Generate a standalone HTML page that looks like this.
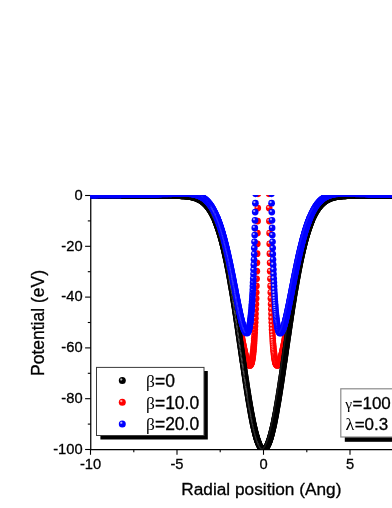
<!DOCTYPE html>
<html><head><meta charset="utf-8"><title>chart</title>
<style>
html,body{margin:0;padding:0;background:#fff;}
body{width:392px;height:508px;overflow:hidden;position:relative;font-family:"Liberation Sans",sans-serif;}
svg{position:absolute;left:0;top:0;display:block;will-change:transform;}
text{font-family:"Liberation Sans",sans-serif;fill:#000;stroke:#000;stroke-width:0.3px;}
.g{font-family:"Liberation Serif",serif;stroke:none;}
</style></head><body>
<svg width="392" height="508" viewBox="0 0 392 508">
<defs>
<radialGradient id="gk" cx="0.35" cy="0.34" r="0.5" fx="0.35" fy="0.34"><stop offset="0" stop-color="#dcdcdc"/><stop offset="0.2" stop-color="#8c8c8c"/><stop offset="0.46" stop-color="#000"/><stop offset="1" stop-color="#000"/></radialGradient>
<radialGradient id="gr" cx="0.35" cy="0.34" r="0.5" fx="0.35" fy="0.34"><stop offset="0" stop-color="#ffdcdc"/><stop offset="0.2" stop-color="#ff8c8c"/><stop offset="0.46" stop-color="#f00"/><stop offset="1" stop-color="#f00"/></radialGradient>
<radialGradient id="gb" cx="0.35" cy="0.34" r="0.5" fx="0.35" fy="0.34"><stop offset="0" stop-color="#dcdcff"/><stop offset="0.2" stop-color="#8c8cff"/><stop offset="0.46" stop-color="#00f"/><stop offset="1" stop-color="#00f"/></radialGradient>
<circle id="k" r="3.5" fill="url(#gk)"/>
<circle id="r" r="3.5" fill="url(#gr)"/>
<circle id="b" r="3.5" fill="url(#gb)"/>
<circle id="k2" r="3.35" fill="url(#gk)"/>
<circle id="r2" r="3.35" fill="url(#gr)"/>
<circle id="b2" r="3.35" fill="url(#gb)"/>
<clipPath id="cp"><rect x="90.2" y="195" width="310" height="254.5"/></clipPath>
</defs>
<rect width="392" height="508" fill="#fff"/>

<g stroke="#000" stroke-width="1.25" fill="none">
<line x1="90.75" y1="195" x2="90.75" y2="450.1"/>
<line x1="90.2" y1="449.5" x2="392" y2="449.5"/>
</g>
<g stroke="#000" stroke-width="1.1" fill="none">
<line x1="85.1" y1="195.5" x2="90.75" y2="195.5"/>
<line x1="87.8" y1="220.9" x2="90.75" y2="220.9"/>
<line x1="85.1" y1="246.3" x2="90.75" y2="246.3"/>
<line x1="87.8" y1="271.7" x2="90.75" y2="271.7"/>
<line x1="85.1" y1="297.1" x2="90.75" y2="297.1"/>
<line x1="87.8" y1="322.5" x2="90.75" y2="322.5"/>
<line x1="85.1" y1="347.9" x2="90.75" y2="347.9"/>
<line x1="87.8" y1="373.3" x2="90.75" y2="373.3"/>
<line x1="85.1" y1="398.7" x2="90.75" y2="398.7"/>
<line x1="87.8" y1="424.1" x2="90.75" y2="424.1"/>
<line x1="85.1" y1="449.5" x2="90.75" y2="449.5"/>
<line x1="90.5" y1="449.5" x2="90.5" y2="454.8"/>
<line x1="133.8" y1="449.5" x2="133.8" y2="452.3"/>
<line x1="177.0" y1="449.5" x2="177.0" y2="454.8"/>
<line x1="220.2" y1="449.5" x2="220.2" y2="452.3"/>
<line x1="263.5" y1="449.5" x2="263.5" y2="454.8"/>
<line x1="306.8" y1="449.5" x2="306.8" y2="452.3"/>
<line x1="350.0" y1="449.5" x2="350.0" y2="454.8"/>
<line x1="393.2" y1="449.5" x2="393.2" y2="452.3"/>
<line x1="436.5" y1="449.5" x2="436.5" y2="454.8"/>
</g>
<g font-size="14.7px">
<text x="82.6" y="199.8" text-anchor="end">0</text>
<text x="82.6" y="250.6" text-anchor="end">-20</text>
<text x="82.6" y="301.4" text-anchor="end">-40</text>
<text x="82.6" y="352.2" text-anchor="end">-60</text>
<text x="82.6" y="403.0" text-anchor="end">-80</text>
<text x="82.6" y="453.8" text-anchor="end">-100</text>
<text x="90.5" y="468.8" text-anchor="middle">-10</text>
<text x="177.0" y="468.8" text-anchor="middle">-5</text>
<text x="263.5" y="468.8" text-anchor="middle">0</text>
<text x="350.0" y="468.8" text-anchor="middle">5</text>
</g>
<text x="181.3" y="495" font-size="17.25px">Radial position (Ang)</text>
<text transform="translate(43.6,376) rotate(-90)" font-size="17.5px">Potential (eV)</text>
<g clip-path="url(#cp)">
<use href="#r2" x="90.5" y="195.2"/>
<use href="#r2" x="91.0" y="195.2"/>
<use href="#r2" x="91.5" y="195.2"/>
<use href="#r2" x="92.1" y="195.2"/>
<use href="#r2" x="92.6" y="195.2"/>
<use href="#r2" x="93.1" y="195.2"/>
<use href="#r2" x="93.6" y="195.2"/>
<use href="#r2" x="94.1" y="195.2"/>
<use href="#r2" x="94.7" y="195.2"/>
<use href="#r2" x="95.2" y="195.2"/>
<use href="#r2" x="95.7" y="195.2"/>
<use href="#r2" x="96.2" y="195.2"/>
<use href="#r2" x="96.7" y="195.2"/>
<use href="#r2" x="97.2" y="195.2"/>
<use href="#r2" x="97.8" y="195.2"/>
<use href="#r2" x="98.3" y="195.2"/>
<use href="#r2" x="98.8" y="195.2"/>
<use href="#r2" x="99.3" y="195.2"/>
<use href="#r2" x="99.8" y="195.2"/>
<use href="#r2" x="100.4" y="195.2"/>
<use href="#r2" x="100.9" y="195.2"/>
<use href="#r2" x="101.4" y="195.2"/>
<use href="#r2" x="101.9" y="195.2"/>
<use href="#r2" x="102.4" y="195.2"/>
<use href="#r2" x="103.0" y="195.2"/>
<use href="#r2" x="103.5" y="195.2"/>
<use href="#r2" x="104.0" y="195.2"/>
<use href="#r2" x="104.5" y="195.2"/>
<use href="#r2" x="105.0" y="195.2"/>
<use href="#r2" x="105.6" y="195.2"/>
<use href="#r2" x="106.1" y="195.2"/>
<use href="#r2" x="106.6" y="195.2"/>
<use href="#r2" x="107.1" y="195.2"/>
<use href="#r2" x="107.6" y="195.2"/>
<use href="#r2" x="108.1" y="195.2"/>
<use href="#r2" x="108.7" y="195.2"/>
<use href="#r2" x="109.2" y="195.2"/>
<use href="#r2" x="109.7" y="195.2"/>
<use href="#r2" x="110.2" y="195.2"/>
<use href="#r2" x="110.7" y="195.2"/>
<use href="#r2" x="111.3" y="195.2"/>
<use href="#r2" x="111.8" y="195.2"/>
<use href="#r2" x="112.3" y="195.2"/>
<use href="#r2" x="112.8" y="195.2"/>
<use href="#r2" x="113.3" y="195.2"/>
<use href="#r2" x="113.9" y="195.2"/>
<use href="#r2" x="114.4" y="195.2"/>
<use href="#r2" x="114.9" y="195.2"/>
<use href="#r2" x="115.4" y="195.2"/>
<use href="#r2" x="115.9" y="195.2"/>
<use href="#r2" x="116.4" y="195.1"/>
<use href="#r2" x="117.0" y="195.1"/>
<use href="#r2" x="117.5" y="195.1"/>
<use href="#r2" x="118.0" y="195.1"/>
<use href="#r2" x="118.5" y="195.1"/>
<use href="#r2" x="119.0" y="195.1"/>
<use href="#r2" x="119.6" y="195.1"/>
<use href="#r2" x="120.1" y="195.1"/>
<use href="#r2" x="120.6" y="195.1"/>
<use href="#r2" x="121.1" y="195.1"/>
<use href="#r2" x="121.6" y="195.1"/>
<use href="#r2" x="122.2" y="195.1"/>
<use href="#r2" x="122.7" y="195.1"/>
<use href="#r2" x="123.2" y="195.1"/>
<use href="#r2" x="123.7" y="195.1"/>
<use href="#r2" x="124.2" y="195.1"/>
<use href="#r2" x="124.8" y="195.1"/>
<use href="#r2" x="125.3" y="195.1"/>
<use href="#r2" x="125.8" y="195.1"/>
<use href="#r2" x="126.3" y="195.1"/>
<use href="#r2" x="126.8" y="195.1"/>
<use href="#r2" x="127.3" y="195.1"/>
<use href="#r2" x="127.9" y="195.1"/>
<use href="#r2" x="128.4" y="195.1"/>
<use href="#r2" x="128.9" y="195.1"/>
<use href="#r2" x="129.4" y="195.1"/>
<use href="#r2" x="129.9" y="195.1"/>
<use href="#r2" x="130.5" y="195.1"/>
<use href="#r2" x="131.0" y="195.1"/>
<use href="#r2" x="131.5" y="195.1"/>
<use href="#r2" x="132.0" y="195.1"/>
<use href="#r2" x="132.5" y="195.1"/>
<use href="#r2" x="133.1" y="195.1"/>
<use href="#r2" x="133.6" y="195.0"/>
<use href="#r2" x="134.1" y="195.0"/>
<use href="#r2" x="134.6" y="195.0"/>
<use href="#r2" x="135.1" y="195.0"/>
<use href="#r2" x="135.7" y="195.0"/>
<use href="#r2" x="136.2" y="195.0"/>
<use href="#r2" x="136.7" y="195.0"/>
<use href="#r2" x="137.2" y="195.0"/>
<use href="#r2" x="137.7" y="195.0"/>
<use href="#r2" x="138.2" y="195.0"/>
<use href="#r2" x="138.8" y="195.0"/>
<use href="#r2" x="139.3" y="195.0"/>
<use href="#r2" x="139.8" y="195.0"/>
<use href="#r2" x="140.3" y="195.0"/>
<use href="#r2" x="140.8" y="195.0"/>
<use href="#r2" x="141.4" y="195.0"/>
<use href="#r2" x="141.9" y="195.0"/>
<use href="#r2" x="142.4" y="195.0"/>
<use href="#r2" x="142.9" y="195.0"/>
<use href="#r2" x="143.4" y="195.0"/>
<use href="#r2" x="144.0" y="195.0"/>
<use href="#r2" x="144.5" y="195.0"/>
<use href="#r2" x="145.0" y="195.0"/>
<use href="#r2" x="145.5" y="195.0"/>
<use href="#r2" x="146.0" y="194.9"/>
<use href="#r2" x="146.6" y="194.9"/>
<use href="#r2" x="147.1" y="194.9"/>
<use href="#r2" x="147.6" y="194.9"/>
<use href="#r2" x="148.1" y="194.9"/>
<use href="#r2" x="148.6" y="194.9"/>
<use href="#r2" x="149.1" y="194.9"/>
<use href="#r2" x="149.7" y="194.9"/>
<use href="#r2" x="150.2" y="194.9"/>
<use href="#r2" x="150.7" y="194.9"/>
<use href="#r2" x="151.2" y="194.9"/>
<use href="#r2" x="151.7" y="194.9"/>
<use href="#r2" x="152.3" y="194.9"/>
<use href="#r2" x="152.8" y="194.9"/>
<use href="#r2" x="153.3" y="194.9"/>
<use href="#r2" x="153.8" y="194.9"/>
<use href="#r2" x="154.3" y="194.9"/>
<use href="#r2" x="154.9" y="194.9"/>
<use href="#r2" x="155.4" y="194.9"/>
<use href="#r2" x="155.9" y="194.8"/>
<use href="#r2" x="156.4" y="194.8"/>
<use href="#r2" x="156.9" y="194.8"/>
<use href="#r2" x="157.5" y="194.8"/>
<use href="#r2" x="158.0" y="194.8"/>
<use href="#r2" x="158.5" y="194.8"/>
<use href="#r2" x="159.0" y="194.8"/>
<use href="#r2" x="159.5" y="194.8"/>
<use href="#r2" x="160.0" y="194.8"/>
<use href="#r2" x="160.6" y="194.8"/>
<use href="#r2" x="161.1" y="194.8"/>
<use href="#r2" x="161.6" y="194.8"/>
<use href="#r2" x="162.1" y="194.8"/>
<use href="#r2" x="162.6" y="194.8"/>
<use href="#r2" x="163.2" y="194.8"/>
<use href="#r2" x="163.7" y="194.7"/>
<use href="#r2" x="164.2" y="194.7"/>
<use href="#r2" x="164.7" y="194.7"/>
<use href="#r2" x="165.2" y="194.7"/>
<use href="#r2" x="165.8" y="194.7"/>
<use href="#r2" x="166.3" y="194.7"/>
<use href="#r2" x="166.8" y="194.7"/>
<use href="#r2" x="167.3" y="194.7"/>
<use href="#r2" x="167.8" y="194.7"/>
<use href="#r2" x="168.3" y="194.7"/>
<use href="#r2" x="168.9" y="194.7"/>
<use href="#r2" x="169.4" y="194.7"/>
<use href="#r2" x="169.9" y="194.7"/>
<use href="#r2" x="170.4" y="194.7"/>
<use href="#r2" x="170.9" y="194.7"/>
<use href="#r2" x="171.5" y="194.7"/>
<use href="#r2" x="172.0" y="194.6"/>
<use href="#r2" x="172.5" y="194.6"/>
<use href="#r2" x="173.0" y="194.6"/>
<use href="#r2" x="173.5" y="194.6"/>
<use href="#r2" x="174.1" y="194.6"/>
<use href="#r2" x="174.6" y="194.6"/>
<use href="#r2" x="175.1" y="194.6"/>
<use href="#r2" x="175.6" y="194.6"/>
<use href="#r2" x="176.1" y="194.6"/>
<use href="#r2" x="176.7" y="194.6"/>
<use href="#r2" x="177.2" y="194.6"/>
<use href="#r2" x="177.7" y="194.6"/>
<use href="#r2" x="178.2" y="194.6"/>
<use href="#r2" x="178.7" y="194.6"/>
<use href="#r2" x="179.2" y="194.6"/>
<use href="#r2" x="179.8" y="194.6"/>
<use href="#r2" x="180.3" y="194.6"/>
<use href="#r2" x="180.8" y="194.7"/>
<use href="#r2" x="181.3" y="194.7"/>
<use href="#r2" x="181.8" y="194.7"/>
<use href="#r2" x="182.4" y="194.7"/>
<use href="#r2" x="182.9" y="194.7"/>
<use href="#r2" x="183.4" y="194.7"/>
<use href="#r2" x="183.9" y="194.7"/>
<use href="#r2" x="184.4" y="194.8"/>
<use href="#r2" x="185.0" y="194.8"/>
<use href="#r2" x="185.5" y="194.8"/>
<use href="#r2" x="186.0" y="194.9"/>
<use href="#r2" x="186.5" y="194.9"/>
<use href="#r2" x="187.0" y="194.9"/>
<use href="#r2" x="187.6" y="195.0"/>
<use href="#r2" x="188.1" y="195.0"/>
<use href="#r2" x="188.6" y="195.1"/>
<use href="#r2" x="189.1" y="195.1"/>
<use href="#r2" x="189.6" y="195.2"/>
<use href="#r2" x="190.1" y="195.2"/>
<use href="#r2" x="190.7" y="195.3"/>
<use href="#r2" x="191.2" y="195.4"/>
<use href="#r2" x="191.7" y="195.5"/>
<use href="#r2" x="192.2" y="195.6"/>
<use href="#r2" x="192.7" y="195.7"/>
<use href="#r2" x="193.3" y="195.8"/>
<use href="#r2" x="193.8" y="195.9"/>
<use href="#r2" x="194.3" y="196.0"/>
<use href="#r2" x="194.8" y="196.1"/>
<use href="#r2" x="195.3" y="196.3"/>
<use href="#r2" x="195.9" y="196.4"/>
<use href="#r2" x="196.4" y="196.6"/>
<use href="#r2" x="196.9" y="196.8"/>
<use href="#r2" x="197.4" y="196.9"/>
<use href="#r2" x="197.9" y="197.1"/>
<use href="#r2" x="198.5" y="197.4"/>
<use href="#r2" x="199.0" y="197.6"/>
<use href="#r2" x="199.5" y="197.8"/>
<use href="#r2" x="200.0" y="198.1"/>
<use href="#r2" x="200.5" y="198.4"/>
<use href="#r2" x="201.0" y="198.6"/>
<use href="#r2" x="201.6" y="199.0"/>
<use href="#r2" x="202.1" y="199.3"/>
<use href="#r2" x="202.6" y="199.6"/>
<use href="#r2" x="203.1" y="200.0"/>
<use href="#r2" x="203.6" y="200.4"/>
<use href="#r2" x="204.2" y="200.8"/>
<use href="#r2" x="204.7" y="201.2"/>
<use href="#r2" x="205.0" y="201.5"/>
<use href="#r2" x="205.4" y="201.8"/>
<use href="#r2" x="205.7" y="202.2"/>
<use href="#r2" x="206.1" y="202.5"/>
<use href="#r2" x="206.4" y="202.9"/>
<use href="#r2" x="206.8" y="203.2"/>
<use href="#r2" x="207.1" y="203.6"/>
<use href="#r2" x="207.4" y="204.0"/>
<use href="#r2" x="207.8" y="204.4"/>
<use href="#r2" x="208.1" y="204.8"/>
<use href="#r2" x="208.5" y="205.2"/>
<use href="#r2" x="208.8" y="205.7"/>
<use href="#r2" x="209.2" y="206.1"/>
<use href="#r2" x="209.5" y="206.6"/>
<use href="#r2" x="209.9" y="207.1"/>
<use href="#r2" x="210.2" y="207.6"/>
<use href="#r2" x="210.6" y="208.1"/>
<use href="#r2" x="210.9" y="208.6"/>
<use href="#r2" x="211.3" y="209.2"/>
<use href="#r2" x="211.6" y="209.7"/>
<use href="#r2" x="211.9" y="210.3"/>
<use href="#r2" x="212.3" y="210.9"/>
<use href="#r2" x="212.6" y="211.6"/>
<use href="#r2" x="213.0" y="212.2"/>
<use href="#r2" x="213.3" y="212.9"/>
<use href="#r2" x="213.7" y="213.5"/>
<use href="#r2" x="214.0" y="214.2"/>
<use href="#r2" x="214.4" y="214.9"/>
<use href="#r2" x="214.7" y="215.7"/>
<use href="#r2" x="215.1" y="216.4"/>
<use href="#r2" x="215.4" y="217.2"/>
<use href="#r2" x="215.8" y="218.0"/>
<use href="#r2" x="216.1" y="218.8"/>
<use href="#r2" x="216.3" y="219.2"/>
<use href="#r2" x="216.4" y="219.7"/>
<use href="#r2" x="216.6" y="220.1"/>
<use href="#r2" x="216.8" y="220.5"/>
<use href="#r2" x="217.0" y="221.0"/>
<use href="#r2" x="217.1" y="221.4"/>
<use href="#r2" x="217.3" y="221.9"/>
<use href="#r2" x="217.5" y="222.3"/>
<use href="#r2" x="217.7" y="222.8"/>
<use href="#r2" x="217.8" y="223.2"/>
<use href="#r2" x="218.0" y="223.7"/>
<use href="#r2" x="218.2" y="224.2"/>
<use href="#r2" x="218.3" y="224.7"/>
<use href="#r2" x="218.5" y="225.2"/>
<use href="#r2" x="218.7" y="225.7"/>
<use href="#r2" x="218.9" y="226.2"/>
<use href="#r2" x="219.0" y="226.7"/>
<use href="#r2" x="219.2" y="227.2"/>
<use href="#r2" x="219.4" y="227.7"/>
<use href="#r2" x="219.6" y="228.2"/>
<use href="#r2" x="219.7" y="228.8"/>
<use href="#r2" x="219.9" y="229.3"/>
<use href="#r2" x="220.1" y="229.8"/>
<use href="#r2" x="220.2" y="230.4"/>
<use href="#r2" x="220.4" y="230.9"/>
<use href="#r2" x="220.6" y="231.5"/>
<use href="#r2" x="220.8" y="232.1"/>
<use href="#r2" x="220.9" y="232.6"/>
<use href="#r2" x="221.1" y="233.2"/>
<use href="#r2" x="221.3" y="233.8"/>
<use href="#r2" x="221.5" y="234.4"/>
<use href="#r2" x="221.6" y="235.0"/>
<use href="#r2" x="221.8" y="235.6"/>
<use href="#r2" x="222.0" y="236.2"/>
<use href="#r2" x="222.2" y="236.8"/>
<use href="#r2" x="222.3" y="237.4"/>
<use href="#r2" x="222.5" y="238.1"/>
<use href="#r2" x="222.7" y="238.7"/>
<use href="#r2" x="222.8" y="239.4"/>
<use href="#r2" x="223.0" y="240.0"/>
<use href="#r2" x="223.2" y="240.7"/>
<use href="#r2" x="223.4" y="241.3"/>
<use href="#r2" x="223.5" y="242.0"/>
<use href="#r2" x="223.7" y="242.7"/>
<use href="#r2" x="223.9" y="243.3"/>
<use href="#r2" x="224.1" y="244.0"/>
<use href="#r2" x="224.2" y="244.7"/>
<use href="#r2" x="224.4" y="245.4"/>
<use href="#r2" x="224.6" y="246.1"/>
<use href="#r2" x="224.7" y="246.8"/>
<use href="#r2" x="224.9" y="247.5"/>
<use href="#r2" x="225.1" y="248.3"/>
<use href="#r2" x="225.3" y="249.0"/>
<use href="#r2" x="225.4" y="249.7"/>
<use href="#r2" x="225.6" y="250.5"/>
<use href="#r2" x="225.8" y="251.2"/>
<use href="#r2" x="226.0" y="252.0"/>
<use href="#r2" x="226.1" y="252.7"/>
<use href="#r2" x="226.3" y="253.5"/>
<use href="#r2" x="226.5" y="254.2"/>
<use href="#r2" x="226.7" y="255.0"/>
<use href="#r2" x="226.8" y="255.8"/>
<use href="#r2" x="227.0" y="256.6"/>
<use href="#r2" x="227.2" y="257.4"/>
<use href="#r2" x="227.3" y="258.2"/>
<use href="#r2" x="227.5" y="259.0"/>
<use href="#r2" x="227.7" y="259.8"/>
<use href="#r2" x="227.9" y="260.6"/>
<use href="#r2" x="228.0" y="261.5"/>
<use href="#r2" x="228.2" y="262.3"/>
<use href="#r2" x="228.4" y="263.1"/>
<use href="#r2" x="228.6" y="264.0"/>
<use href="#r2" x="228.7" y="264.8"/>
<use href="#r2" x="228.9" y="265.7"/>
<use href="#r2" x="229.1" y="266.5"/>
<use href="#r2" x="229.2" y="267.4"/>
<use href="#r2" x="229.4" y="268.2"/>
<use href="#r2" x="229.6" y="269.1"/>
<use href="#r2" x="229.8" y="270.0"/>
<use href="#r2" x="229.9" y="270.9"/>
<use href="#r2" x="230.1" y="271.8"/>
<use href="#r2" x="230.3" y="272.7"/>
<use href="#r2" x="230.5" y="273.6"/>
<use href="#r2" x="230.6" y="274.5"/>
<use href="#r2" x="230.8" y="275.4"/>
<use href="#r2" x="231.0" y="276.3"/>
<use href="#r2" x="231.1" y="277.2"/>
<use href="#r2" x="231.3" y="278.1"/>
<use href="#r2" x="231.5" y="279.1"/>
<use href="#r2" x="231.7" y="280.0"/>
<use href="#r2" x="231.8" y="280.9"/>
<use href="#r2" x="232.0" y="281.9"/>
<use href="#r2" x="232.2" y="282.8"/>
<use href="#r2" x="232.4" y="283.8"/>
<use href="#r2" x="232.5" y="284.7"/>
<use href="#r2" x="232.7" y="285.7"/>
<use href="#r2" x="232.9" y="286.6"/>
<use href="#r2" x="233.1" y="287.6"/>
<use href="#r2" x="233.2" y="288.6"/>
<use href="#r2" x="233.4" y="289.5"/>
<use href="#r2" x="233.6" y="290.5"/>
<use href="#r2" x="233.7" y="291.5"/>
<use href="#r2" x="233.9" y="292.5"/>
<use href="#r2" x="234.1" y="293.4"/>
<use href="#r2" x="234.3" y="294.4"/>
<use href="#r2" x="234.4" y="295.4"/>
<use href="#r2" x="234.6" y="296.4"/>
<use href="#r2" x="234.8" y="297.4"/>
<use href="#r2" x="235.0" y="298.4"/>
<use href="#r2" x="235.1" y="299.4"/>
<use href="#r2" x="235.3" y="300.4"/>
<use href="#r2" x="235.5" y="301.4"/>
<use href="#r2" x="235.6" y="302.4"/>
<use href="#r2" x="235.8" y="303.4"/>
<use href="#r2" x="236.0" y="304.4"/>
<use href="#r2" x="236.2" y="305.4"/>
<use href="#r2" x="236.3" y="306.4"/>
<use href="#r2" x="236.5" y="307.5"/>
<use href="#r2" x="236.7" y="308.5"/>
<use href="#r2" x="236.9" y="309.5"/>
<use href="#r2" x="237.0" y="310.5"/>
<use href="#r2" x="237.2" y="311.5"/>
<use href="#r2" x="237.4" y="312.5"/>
<use href="#r2" x="237.6" y="313.5"/>
<use href="#r2" x="237.7" y="314.6"/>
<use href="#r2" x="237.9" y="315.6"/>
<use href="#r2" x="238.1" y="316.6"/>
<use href="#r2" x="238.2" y="317.6"/>
<use href="#r2" x="238.4" y="318.6"/>
<use href="#r2" x="238.6" y="319.6"/>
<use href="#r2" x="238.8" y="320.6"/>
<use href="#r2" x="238.9" y="321.6"/>
<use href="#r2" x="239.1" y="322.6"/>
<use href="#r2" x="239.3" y="323.6"/>
<use href="#r2" x="239.5" y="324.6"/>
<use href="#r2" x="239.6" y="325.6"/>
<use href="#r2" x="239.8" y="326.6"/>
<use href="#r2" x="240.0" y="327.6"/>
<use href="#r2" x="240.1" y="328.6"/>
<use href="#r2" x="240.3" y="329.6"/>
<use href="#r2" x="240.5" y="330.5"/>
<use href="#r2" x="240.7" y="331.5"/>
<use href="#r2" x="240.8" y="332.5"/>
<use href="#r2" x="241.0" y="333.5"/>
<use href="#r2" x="241.2" y="334.4"/>
<use href="#r2" x="241.4" y="335.4"/>
<use href="#r2" x="241.5" y="336.3"/>
<use href="#r2" x="241.7" y="337.3"/>
<use href="#r2" x="241.9" y="338.2"/>
<use href="#r2" x="242.0" y="339.1"/>
<use href="#r2" x="242.2" y="340.0"/>
<use href="#r2" x="242.4" y="341.0"/>
<use href="#r2" x="242.6" y="341.9"/>
<use href="#r2" x="242.7" y="342.8"/>
<use href="#r2" x="242.9" y="343.6"/>
<use href="#r2" x="243.1" y="344.5"/>
<use href="#r2" x="243.3" y="345.4"/>
<use href="#r2" x="243.4" y="346.3"/>
<use href="#r2" x="243.6" y="347.1"/>
<use href="#r2" x="243.8" y="347.9"/>
<use href="#r2" x="244.0" y="348.8"/>
<use href="#r2" x="244.1" y="349.6"/>
<use href="#r2" x="244.3" y="350.4"/>
<use href="#r2" x="244.5" y="351.2"/>
<use href="#r2" x="244.6" y="352.0"/>
<use href="#r2" x="244.8" y="352.7"/>
<use href="#r2" x="245.0" y="353.5"/>
<use href="#r2" x="245.2" y="354.2"/>
<use href="#r2" x="245.3" y="354.9"/>
<use href="#r2" x="245.5" y="355.6"/>
<use href="#r2" x="245.7" y="356.3"/>
<use href="#r2" x="245.9" y="357.0"/>
<use href="#r2" x="246.0" y="357.6"/>
<use href="#r2" x="246.2" y="358.3"/>
<use href="#r2" x="246.4" y="358.9"/>
<use href="#r2" x="246.5" y="359.5"/>
<use href="#r2" x="246.7" y="360.0"/>
<use href="#r2" x="246.9" y="360.6"/>
<use href="#r2" x="247.1" y="361.1"/>
<use href="#r2" x="247.2" y="361.6"/>
<use href="#r2" x="247.4" y="362.1"/>
<use href="#r2" x="247.6" y="362.5"/>
<use href="#r2" x="247.8" y="363.0"/>
<use href="#r2" x="248.1" y="363.7"/>
<use href="#r2" x="248.4" y="364.3"/>
<use href="#r2" x="248.8" y="364.8"/>
<use href="#r2" x="249.1" y="365.2"/>
<use href="#r2" x="249.7" y="365.4"/>
<use href="#r2" x="250.2" y="365.3"/>
<use href="#r2" x="250.5" y="364.9"/>
<use href="#r2" x="250.9" y="364.3"/>
<use href="#r2" x="251.2" y="363.5"/>
<use href="#r2" x="251.4" y="362.9"/>
<use href="#r2" x="251.6" y="362.3"/>
<use href="#r2" x="251.7" y="361.7"/>
<use href="#r2" x="251.9" y="360.9"/>
<use href="#r2" x="252.1" y="360.1"/>
<use href="#r2" x="252.3" y="359.1"/>
<use href="#r2" x="252.4" y="358.1"/>
<use href="#r2" x="252.6" y="357.0"/>
<use href="#r2" x="252.8" y="355.8"/>
<use href="#r2" x="252.9" y="354.4"/>
<use href="#r2" x="253.1" y="352.9"/>
<use href="#r2" x="253.3" y="351.3"/>
<use href="#r2" x="253.5" y="349.6"/>
<use href="#r2" x="253.6" y="347.7"/>
<use href="#r2" x="253.8" y="345.7"/>
<use href="#r2" x="254.0" y="343.5"/>
<use href="#r2" x="254.2" y="341.1"/>
<use href="#r2" x="254.3" y="338.5"/>
<use href="#r2" x="254.5" y="335.8"/>
<use href="#r2" x="254.7" y="332.8"/>
<use href="#r2" x="254.8" y="329.5"/>
<use href="#r2" x="255.0" y="326.1"/>
<use href="#r2" x="255.2" y="322.3"/>
<use href="#r2" x="255.4" y="318.2"/>
<use href="#r2" x="255.5" y="313.8"/>
<use href="#r2" x="255.7" y="309.1"/>
<use href="#r2" x="255.9" y="304.0"/>
<use href="#r2" x="256.1" y="298.4"/>
<use href="#r2" x="256.2" y="292.4"/>
<use href="#r2" x="256.4" y="285.9"/>
<use href="#r2" x="256.6" y="278.8"/>
<use href="#r2" x="256.8" y="271.2"/>
<use href="#r2" x="256.9" y="262.8"/>
<use href="#r2" x="257.1" y="253.7"/>
<use href="#r2" x="257.3" y="243.8"/>
<use href="#r2" x="257.4" y="233.0"/>
<use href="#r2" x="257.6" y="221.1"/>
<use href="#r2" x="257.8" y="208.1"/>
<use href="#r2" x="258.0" y="193.8"/>
<use href="#r2" x="269.0" y="193.8"/>
<use href="#r2" x="269.2" y="208.1"/>
<use href="#r2" x="269.4" y="221.1"/>
<use href="#r2" x="269.6" y="233.0"/>
<use href="#r2" x="269.7" y="243.8"/>
<use href="#r2" x="269.9" y="253.7"/>
<use href="#r2" x="270.1" y="262.8"/>
<use href="#r2" x="270.2" y="271.2"/>
<use href="#r2" x="270.4" y="278.8"/>
<use href="#r2" x="270.6" y="285.9"/>
<use href="#r2" x="270.8" y="292.4"/>
<use href="#r2" x="270.9" y="298.4"/>
<use href="#r2" x="271.1" y="304.0"/>
<use href="#r2" x="271.3" y="309.1"/>
<use href="#r2" x="271.5" y="313.8"/>
<use href="#r2" x="271.6" y="318.2"/>
<use href="#r2" x="271.8" y="322.3"/>
<use href="#r2" x="272.0" y="326.1"/>
<use href="#r2" x="272.1" y="329.5"/>
<use href="#r2" x="272.3" y="332.8"/>
<use href="#r2" x="272.5" y="335.8"/>
<use href="#r2" x="272.7" y="338.5"/>
<use href="#r2" x="272.8" y="341.1"/>
<use href="#r2" x="273.0" y="343.5"/>
<use href="#r2" x="273.2" y="345.7"/>
<use href="#r2" x="273.4" y="347.7"/>
<use href="#r2" x="273.5" y="349.6"/>
<use href="#r2" x="273.7" y="351.3"/>
<use href="#r2" x="273.9" y="352.9"/>
<use href="#r2" x="274.1" y="354.4"/>
<use href="#r2" x="274.2" y="355.8"/>
<use href="#r2" x="274.4" y="357.0"/>
<use href="#r2" x="274.6" y="358.1"/>
<use href="#r2" x="274.7" y="359.1"/>
<use href="#r2" x="274.9" y="360.1"/>
<use href="#r2" x="275.1" y="360.9"/>
<use href="#r2" x="275.3" y="361.7"/>
<use href="#r2" x="275.4" y="362.3"/>
<use href="#r2" x="275.6" y="362.9"/>
<use href="#r2" x="275.8" y="363.5"/>
<use href="#r2" x="276.0" y="363.9"/>
<use href="#r2" x="276.3" y="364.6"/>
<use href="#r2" x="276.6" y="365.1"/>
<use href="#r2" x="277.2" y="365.4"/>
<use href="#r2" x="277.7" y="365.3"/>
<use href="#r2" x="278.2" y="364.8"/>
<use href="#r2" x="278.6" y="364.3"/>
<use href="#r2" x="278.9" y="363.7"/>
<use href="#r2" x="279.2" y="363.0"/>
<use href="#r2" x="279.4" y="362.5"/>
<use href="#r2" x="279.6" y="362.1"/>
<use href="#r2" x="279.8" y="361.6"/>
<use href="#r2" x="279.9" y="361.1"/>
<use href="#r2" x="280.1" y="360.6"/>
<use href="#r2" x="280.3" y="360.0"/>
<use href="#r2" x="280.5" y="359.5"/>
<use href="#r2" x="280.6" y="358.9"/>
<use href="#r2" x="280.8" y="358.3"/>
<use href="#r2" x="281.0" y="357.6"/>
<use href="#r2" x="281.1" y="357.0"/>
<use href="#r2" x="281.3" y="356.3"/>
<use href="#r2" x="281.5" y="355.6"/>
<use href="#r2" x="281.7" y="354.9"/>
<use href="#r2" x="281.8" y="354.2"/>
<use href="#r2" x="282.0" y="353.5"/>
<use href="#r2" x="282.2" y="352.7"/>
<use href="#r2" x="282.4" y="352.0"/>
<use href="#r2" x="282.5" y="351.2"/>
<use href="#r2" x="282.7" y="350.4"/>
<use href="#r2" x="282.9" y="349.6"/>
<use href="#r2" x="283.0" y="348.8"/>
<use href="#r2" x="283.2" y="347.9"/>
<use href="#r2" x="283.4" y="347.1"/>
<use href="#r2" x="283.6" y="346.3"/>
<use href="#r2" x="283.7" y="345.4"/>
<use href="#r2" x="283.9" y="344.5"/>
<use href="#r2" x="284.1" y="343.6"/>
<use href="#r2" x="284.3" y="342.8"/>
<use href="#r2" x="284.4" y="341.9"/>
<use href="#r2" x="284.6" y="341.0"/>
<use href="#r2" x="284.8" y="340.0"/>
<use href="#r2" x="285.0" y="339.1"/>
<use href="#r2" x="285.1" y="338.2"/>
<use href="#r2" x="285.3" y="337.3"/>
<use href="#r2" x="285.5" y="336.3"/>
<use href="#r2" x="285.6" y="335.4"/>
<use href="#r2" x="285.8" y="334.4"/>
<use href="#r2" x="286.0" y="333.5"/>
<use href="#r2" x="286.2" y="332.5"/>
<use href="#r2" x="286.3" y="331.5"/>
<use href="#r2" x="286.5" y="330.5"/>
<use href="#r2" x="286.7" y="329.6"/>
<use href="#r2" x="286.9" y="328.6"/>
<use href="#r2" x="287.0" y="327.6"/>
<use href="#r2" x="287.2" y="326.6"/>
<use href="#r2" x="287.4" y="325.6"/>
<use href="#r2" x="287.5" y="324.6"/>
<use href="#r2" x="287.7" y="323.6"/>
<use href="#r2" x="287.9" y="322.6"/>
<use href="#r2" x="288.1" y="321.6"/>
<use href="#r2" x="288.2" y="320.6"/>
<use href="#r2" x="288.4" y="319.6"/>
<use href="#r2" x="288.6" y="318.6"/>
<use href="#r2" x="288.8" y="317.6"/>
<use href="#r2" x="288.9" y="316.6"/>
<use href="#r2" x="289.1" y="315.6"/>
<use href="#r2" x="289.3" y="314.6"/>
<use href="#r2" x="289.4" y="313.5"/>
<use href="#r2" x="289.6" y="312.5"/>
<use href="#r2" x="289.8" y="311.5"/>
<use href="#r2" x="290.0" y="310.5"/>
<use href="#r2" x="290.1" y="309.5"/>
<use href="#r2" x="290.3" y="308.5"/>
<use href="#r2" x="290.5" y="307.5"/>
<use href="#r2" x="290.7" y="306.4"/>
<use href="#r2" x="290.8" y="305.4"/>
<use href="#r2" x="291.0" y="304.4"/>
<use href="#r2" x="291.2" y="303.4"/>
<use href="#r2" x="291.4" y="302.4"/>
<use href="#r2" x="291.5" y="301.4"/>
<use href="#r2" x="291.7" y="300.4"/>
<use href="#r2" x="291.9" y="299.4"/>
<use href="#r2" x="292.0" y="298.4"/>
<use href="#r2" x="292.2" y="297.4"/>
<use href="#r2" x="292.4" y="296.4"/>
<use href="#r2" x="292.6" y="295.4"/>
<use href="#r2" x="292.7" y="294.4"/>
<use href="#r2" x="292.9" y="293.4"/>
<use href="#r2" x="293.1" y="292.5"/>
<use href="#r2" x="293.3" y="291.5"/>
<use href="#r2" x="293.4" y="290.5"/>
<use href="#r2" x="293.6" y="289.5"/>
<use href="#r2" x="293.8" y="288.6"/>
<use href="#r2" x="293.9" y="287.6"/>
<use href="#r2" x="294.1" y="286.6"/>
<use href="#r2" x="294.3" y="285.7"/>
<use href="#r2" x="294.5" y="284.7"/>
<use href="#r2" x="294.6" y="283.8"/>
<use href="#r2" x="294.8" y="282.8"/>
<use href="#r2" x="295.0" y="281.9"/>
<use href="#r2" x="295.2" y="280.9"/>
<use href="#r2" x="295.3" y="280.0"/>
<use href="#r2" x="295.5" y="279.1"/>
<use href="#r2" x="295.7" y="278.1"/>
<use href="#r2" x="295.9" y="277.2"/>
<use href="#r2" x="296.0" y="276.3"/>
<use href="#r2" x="296.2" y="275.4"/>
<use href="#r2" x="296.4" y="274.5"/>
<use href="#r2" x="296.5" y="273.6"/>
<use href="#r2" x="296.7" y="272.7"/>
<use href="#r2" x="296.9" y="271.8"/>
<use href="#r2" x="297.1" y="270.9"/>
<use href="#r2" x="297.2" y="270.0"/>
<use href="#r2" x="297.4" y="269.1"/>
<use href="#r2" x="297.6" y="268.2"/>
<use href="#r2" x="297.8" y="267.4"/>
<use href="#r2" x="297.9" y="266.5"/>
<use href="#r2" x="298.1" y="265.7"/>
<use href="#r2" x="298.3" y="264.8"/>
<use href="#r2" x="298.4" y="264.0"/>
<use href="#r2" x="298.6" y="263.1"/>
<use href="#r2" x="298.8" y="262.3"/>
<use href="#r2" x="299.0" y="261.5"/>
<use href="#r2" x="299.1" y="260.6"/>
<use href="#r2" x="299.3" y="259.8"/>
<use href="#r2" x="299.5" y="259.0"/>
<use href="#r2" x="299.7" y="258.2"/>
<use href="#r2" x="299.8" y="257.4"/>
<use href="#r2" x="300.0" y="256.6"/>
<use href="#r2" x="300.2" y="255.8"/>
<use href="#r2" x="300.3" y="255.0"/>
<use href="#r2" x="300.5" y="254.2"/>
<use href="#r2" x="300.7" y="253.5"/>
<use href="#r2" x="300.9" y="252.7"/>
<use href="#r2" x="301.0" y="252.0"/>
<use href="#r2" x="301.2" y="251.2"/>
<use href="#r2" x="301.4" y="250.5"/>
<use href="#r2" x="301.6" y="249.7"/>
<use href="#r2" x="301.7" y="249.0"/>
<use href="#r2" x="301.9" y="248.3"/>
<use href="#r2" x="302.1" y="247.5"/>
<use href="#r2" x="302.3" y="246.8"/>
<use href="#r2" x="302.4" y="246.1"/>
<use href="#r2" x="302.6" y="245.4"/>
<use href="#r2" x="302.8" y="244.7"/>
<use href="#r2" x="302.9" y="244.0"/>
<use href="#r2" x="303.1" y="243.3"/>
<use href="#r2" x="303.3" y="242.7"/>
<use href="#r2" x="303.5" y="242.0"/>
<use href="#r2" x="303.6" y="241.3"/>
<use href="#r2" x="303.8" y="240.7"/>
<use href="#r2" x="304.0" y="240.0"/>
<use href="#r2" x="304.2" y="239.4"/>
<use href="#r2" x="304.3" y="238.7"/>
<use href="#r2" x="304.5" y="238.1"/>
<use href="#r2" x="304.7" y="237.4"/>
<use href="#r2" x="304.8" y="236.8"/>
<use href="#r2" x="305.0" y="236.2"/>
<use href="#r2" x="305.2" y="235.6"/>
<use href="#r2" x="305.4" y="235.0"/>
<use href="#r2" x="305.5" y="234.4"/>
<use href="#r2" x="305.7" y="233.8"/>
<use href="#r2" x="305.9" y="233.2"/>
<use href="#r2" x="306.1" y="232.6"/>
<use href="#r2" x="306.2" y="232.1"/>
<use href="#r2" x="306.4" y="231.5"/>
<use href="#r2" x="306.6" y="230.9"/>
<use href="#r2" x="306.8" y="230.4"/>
<use href="#r2" x="306.9" y="229.8"/>
<use href="#r2" x="307.1" y="229.3"/>
<use href="#r2" x="307.3" y="228.8"/>
<use href="#r2" x="307.4" y="228.2"/>
<use href="#r2" x="307.6" y="227.7"/>
<use href="#r2" x="307.8" y="227.2"/>
<use href="#r2" x="308.0" y="226.7"/>
<use href="#r2" x="308.1" y="226.2"/>
<use href="#r2" x="308.3" y="225.7"/>
<use href="#r2" x="308.5" y="225.2"/>
<use href="#r2" x="308.7" y="224.7"/>
<use href="#r2" x="308.8" y="224.2"/>
<use href="#r2" x="309.0" y="223.7"/>
<use href="#r2" x="309.2" y="223.2"/>
<use href="#r2" x="309.3" y="222.8"/>
<use href="#r2" x="309.5" y="222.3"/>
<use href="#r2" x="309.7" y="221.9"/>
<use href="#r2" x="309.9" y="221.4"/>
<use href="#r2" x="310.0" y="221.0"/>
<use href="#r2" x="310.2" y="220.5"/>
<use href="#r2" x="310.4" y="220.1"/>
<use href="#r2" x="310.6" y="219.7"/>
<use href="#r2" x="310.7" y="219.2"/>
<use href="#r2" x="310.9" y="218.8"/>
<use href="#r2" x="311.2" y="218.0"/>
<use href="#r2" x="311.6" y="217.2"/>
<use href="#r2" x="311.9" y="216.4"/>
<use href="#r2" x="312.3" y="215.7"/>
<use href="#r2" x="312.6" y="214.9"/>
<use href="#r2" x="313.0" y="214.2"/>
<use href="#r2" x="313.3" y="213.5"/>
<use href="#r2" x="313.7" y="212.9"/>
<use href="#r2" x="314.0" y="212.2"/>
<use href="#r2" x="314.4" y="211.6"/>
<use href="#r2" x="314.7" y="210.9"/>
<use href="#r2" x="315.1" y="210.3"/>
<use href="#r2" x="315.4" y="209.7"/>
<use href="#r2" x="315.7" y="209.2"/>
<use href="#r2" x="316.1" y="208.6"/>
<use href="#r2" x="316.4" y="208.1"/>
<use href="#r2" x="316.8" y="207.6"/>
<use href="#r2" x="317.1" y="207.1"/>
<use href="#r2" x="317.5" y="206.6"/>
<use href="#r2" x="317.8" y="206.1"/>
<use href="#r2" x="318.2" y="205.7"/>
<use href="#r2" x="318.5" y="205.2"/>
<use href="#r2" x="318.9" y="204.8"/>
<use href="#r2" x="319.2" y="204.4"/>
<use href="#r2" x="319.6" y="204.0"/>
<use href="#r2" x="319.9" y="203.6"/>
<use href="#r2" x="320.2" y="203.2"/>
<use href="#r2" x="320.6" y="202.9"/>
<use href="#r2" x="320.9" y="202.5"/>
<use href="#r2" x="321.3" y="202.2"/>
<use href="#r2" x="321.6" y="201.8"/>
<use href="#r2" x="322.0" y="201.5"/>
<use href="#r2" x="322.3" y="201.2"/>
<use href="#r2" x="322.7" y="200.9"/>
<use href="#r2" x="323.2" y="200.5"/>
<use href="#r2" x="323.7" y="200.1"/>
<use href="#r2" x="324.2" y="199.7"/>
<use href="#r2" x="324.7" y="199.4"/>
<use href="#r2" x="325.3" y="199.1"/>
<use href="#r2" x="325.8" y="198.7"/>
<use href="#r2" x="326.3" y="198.4"/>
<use href="#r2" x="326.8" y="198.2"/>
<use href="#r2" x="327.3" y="197.9"/>
<use href="#r2" x="327.9" y="197.7"/>
<use href="#r2" x="328.4" y="197.4"/>
<use href="#r2" x="328.9" y="197.2"/>
<use href="#r2" x="329.4" y="197.0"/>
<use href="#r2" x="329.9" y="196.8"/>
<use href="#r2" x="330.5" y="196.6"/>
<use href="#r2" x="331.0" y="196.5"/>
<use href="#r2" x="331.5" y="196.3"/>
<use href="#r2" x="332.0" y="196.2"/>
<use href="#r2" x="332.5" y="196.0"/>
<use href="#r2" x="333.0" y="195.9"/>
<use href="#r2" x="333.6" y="195.8"/>
<use href="#r2" x="334.1" y="195.7"/>
<use href="#r2" x="334.6" y="195.6"/>
<use href="#r2" x="335.1" y="195.5"/>
<use href="#r2" x="335.6" y="195.4"/>
<use href="#r2" x="336.2" y="195.3"/>
<use href="#r2" x="336.7" y="195.3"/>
<use href="#r2" x="337.2" y="195.2"/>
<use href="#r2" x="337.7" y="195.1"/>
<use href="#r2" x="338.2" y="195.1"/>
<use href="#r2" x="338.8" y="195.0"/>
<use href="#r2" x="339.3" y="195.0"/>
<use href="#r2" x="339.8" y="194.9"/>
<use href="#r2" x="340.3" y="194.9"/>
<use href="#r2" x="340.8" y="194.9"/>
<use href="#r2" x="341.4" y="194.8"/>
<use href="#r2" x="341.9" y="194.8"/>
<use href="#r2" x="342.4" y="194.8"/>
<use href="#r2" x="342.9" y="194.8"/>
<use href="#r2" x="343.4" y="194.7"/>
<use href="#r2" x="343.9" y="194.7"/>
<use href="#r2" x="344.5" y="194.7"/>
<use href="#r2" x="345.0" y="194.7"/>
<use href="#r2" x="345.5" y="194.7"/>
<use href="#r2" x="346.0" y="194.7"/>
<use href="#r2" x="346.5" y="194.7"/>
<use href="#r2" x="347.1" y="194.6"/>
<use href="#r2" x="347.6" y="194.6"/>
<use href="#r2" x="348.1" y="194.6"/>
<use href="#r2" x="348.6" y="194.6"/>
<use href="#r2" x="349.1" y="194.6"/>
<use href="#r2" x="349.7" y="194.6"/>
<use href="#r2" x="350.2" y="194.6"/>
<use href="#r2" x="350.7" y="194.6"/>
<use href="#r2" x="351.2" y="194.6"/>
<use href="#r2" x="351.7" y="194.6"/>
<use href="#r2" x="352.2" y="194.6"/>
<use href="#r2" x="352.8" y="194.6"/>
<use href="#r2" x="353.3" y="194.6"/>
<use href="#r2" x="353.8" y="194.6"/>
<use href="#r2" x="354.3" y="194.6"/>
<use href="#r2" x="354.8" y="194.6"/>
<use href="#r2" x="355.4" y="194.7"/>
<use href="#r2" x="355.9" y="194.7"/>
<use href="#r2" x="356.4" y="194.7"/>
<use href="#r2" x="356.9" y="194.7"/>
<use href="#r2" x="357.4" y="194.7"/>
<use href="#r2" x="358.0" y="194.7"/>
<use href="#r2" x="358.5" y="194.7"/>
<use href="#r2" x="359.0" y="194.7"/>
<use href="#r2" x="359.5" y="194.7"/>
<use href="#r2" x="360.0" y="194.7"/>
<use href="#r2" x="360.6" y="194.7"/>
<use href="#r2" x="361.1" y="194.7"/>
<use href="#r2" x="361.6" y="194.7"/>
<use href="#r2" x="362.1" y="194.7"/>
<use href="#r2" x="362.6" y="194.7"/>
<use href="#r2" x="363.1" y="194.7"/>
<use href="#r2" x="363.7" y="194.8"/>
<use href="#r2" x="364.2" y="194.8"/>
<use href="#r2" x="364.7" y="194.8"/>
<use href="#r2" x="365.2" y="194.8"/>
<use href="#r2" x="365.7" y="194.8"/>
<use href="#r2" x="366.3" y="194.8"/>
<use href="#r2" x="366.8" y="194.8"/>
<use href="#r2" x="367.3" y="194.8"/>
<use href="#r2" x="367.8" y="194.8"/>
<use href="#r2" x="368.3" y="194.8"/>
<use href="#r2" x="368.9" y="194.8"/>
<use href="#r2" x="369.4" y="194.8"/>
<use href="#r2" x="369.9" y="194.8"/>
<use href="#r2" x="370.4" y="194.8"/>
<use href="#r2" x="370.9" y="194.8"/>
<use href="#r2" x="371.5" y="194.8"/>
<use href="#r2" x="372.0" y="194.9"/>
<use href="#r2" x="372.5" y="194.9"/>
<use href="#r2" x="373.0" y="194.9"/>
<use href="#r2" x="373.5" y="194.9"/>
<use href="#r2" x="374.0" y="194.9"/>
<use href="#r2" x="374.6" y="194.9"/>
<use href="#r2" x="375.1" y="194.9"/>
<use href="#r2" x="375.6" y="194.9"/>
<use href="#r2" x="376.1" y="194.9"/>
<use href="#r2" x="376.6" y="194.9"/>
<use href="#r2" x="377.2" y="194.9"/>
<use href="#r2" x="377.7" y="194.9"/>
<use href="#r2" x="378.2" y="194.9"/>
<use href="#r2" x="378.7" y="194.9"/>
<use href="#r2" x="379.2" y="194.9"/>
<use href="#r2" x="379.8" y="194.9"/>
<use href="#r2" x="380.3" y="194.9"/>
<use href="#r2" x="380.8" y="194.9"/>
<use href="#r2" x="381.3" y="195.0"/>
<use href="#r2" x="381.8" y="195.0"/>
<use href="#r2" x="382.4" y="195.0"/>
<use href="#r2" x="382.9" y="195.0"/>
<use href="#r2" x="383.4" y="195.0"/>
<use href="#r2" x="383.9" y="195.0"/>
<use href="#r2" x="384.4" y="195.0"/>
<use href="#r2" x="384.9" y="195.0"/>
<use href="#r2" x="385.5" y="195.0"/>
<use href="#r2" x="386.0" y="195.0"/>
<use href="#r2" x="386.5" y="195.0"/>
<use href="#r2" x="387.0" y="195.0"/>
<use href="#r2" x="387.5" y="195.0"/>
<use href="#r2" x="388.1" y="195.0"/>
<use href="#r2" x="388.6" y="195.0"/>
<use href="#r2" x="389.1" y="195.0"/>
<use href="#r2" x="389.6" y="195.0"/>
<use href="#r2" x="390.1" y="195.0"/>
<use href="#r2" x="390.7" y="195.0"/>
<use href="#r2" x="391.2" y="195.0"/>
<use href="#r2" x="391.7" y="195.0"/>
<use href="#r2" x="392.2" y="195.0"/>
<use href="#r2" x="392.7" y="195.0"/>
<use href="#r2" x="393.2" y="195.0"/>
<use href="#r2" x="393.8" y="195.1"/>
<use href="#r2" x="394.3" y="195.1"/>
<use href="#r2" x="394.8" y="195.1"/>
<use href="#r2" x="395.3" y="195.1"/>
<use href="#r2" x="395.8" y="195.1"/>
<use href="#r2" x="396.4" y="195.1"/>
<use href="#k2" x="90.5" y="195.5"/>
<use href="#k2" x="91.0" y="195.5"/>
<use href="#k2" x="91.5" y="195.5"/>
<use href="#k2" x="92.1" y="195.5"/>
<use href="#k2" x="92.6" y="195.5"/>
<use href="#k2" x="93.1" y="195.5"/>
<use href="#k2" x="93.6" y="195.5"/>
<use href="#k2" x="94.1" y="195.5"/>
<use href="#k2" x="94.7" y="195.5"/>
<use href="#k2" x="95.2" y="195.5"/>
<use href="#k2" x="95.7" y="195.5"/>
<use href="#k2" x="96.2" y="195.5"/>
<use href="#k2" x="96.7" y="195.5"/>
<use href="#k2" x="97.2" y="195.5"/>
<use href="#k2" x="97.8" y="195.5"/>
<use href="#k2" x="98.3" y="195.5"/>
<use href="#k2" x="98.8" y="195.5"/>
<use href="#k2" x="99.3" y="195.5"/>
<use href="#k2" x="99.8" y="195.5"/>
<use href="#k2" x="100.4" y="195.5"/>
<use href="#k2" x="100.9" y="195.5"/>
<use href="#k2" x="101.4" y="195.5"/>
<use href="#k2" x="101.9" y="195.5"/>
<use href="#k2" x="102.4" y="195.5"/>
<use href="#k2" x="103.0" y="195.5"/>
<use href="#k2" x="103.5" y="195.5"/>
<use href="#k2" x="104.0" y="195.5"/>
<use href="#k2" x="104.5" y="195.5"/>
<use href="#k2" x="105.0" y="195.5"/>
<use href="#k2" x="105.6" y="195.5"/>
<use href="#k2" x="106.1" y="195.5"/>
<use href="#k2" x="106.6" y="195.5"/>
<use href="#k2" x="107.1" y="195.5"/>
<use href="#k2" x="107.6" y="195.5"/>
<use href="#k2" x="108.1" y="195.5"/>
<use href="#k2" x="108.7" y="195.5"/>
<use href="#k2" x="109.2" y="195.5"/>
<use href="#k2" x="109.7" y="195.5"/>
<use href="#k2" x="110.2" y="195.5"/>
<use href="#k2" x="110.7" y="195.5"/>
<use href="#k2" x="111.3" y="195.5"/>
<use href="#k2" x="111.8" y="195.5"/>
<use href="#k2" x="112.3" y="195.5"/>
<use href="#k2" x="112.8" y="195.5"/>
<use href="#k2" x="113.3" y="195.5"/>
<use href="#k2" x="113.9" y="195.5"/>
<use href="#k2" x="114.4" y="195.5"/>
<use href="#k2" x="114.9" y="195.5"/>
<use href="#k2" x="115.4" y="195.5"/>
<use href="#k2" x="115.9" y="195.5"/>
<use href="#k2" x="116.4" y="195.5"/>
<use href="#k2" x="117.0" y="195.5"/>
<use href="#k2" x="117.5" y="195.5"/>
<use href="#k2" x="118.0" y="195.5"/>
<use href="#k2" x="118.5" y="195.5"/>
<use href="#k2" x="119.0" y="195.5"/>
<use href="#k2" x="119.6" y="195.5"/>
<use href="#k2" x="120.1" y="195.5"/>
<use href="#k2" x="120.6" y="195.5"/>
<use href="#k2" x="121.1" y="195.5"/>
<use href="#k2" x="121.6" y="195.5"/>
<use href="#k2" x="122.2" y="195.5"/>
<use href="#k2" x="122.7" y="195.5"/>
<use href="#k2" x="123.2" y="195.5"/>
<use href="#k2" x="123.7" y="195.5"/>
<use href="#k2" x="124.2" y="195.5"/>
<use href="#k2" x="124.8" y="195.5"/>
<use href="#k2" x="125.3" y="195.5"/>
<use href="#k2" x="125.8" y="195.5"/>
<use href="#k2" x="126.3" y="195.5"/>
<use href="#k2" x="126.8" y="195.5"/>
<use href="#k2" x="127.3" y="195.5"/>
<use href="#k2" x="127.9" y="195.5"/>
<use href="#k2" x="128.4" y="195.5"/>
<use href="#k2" x="128.9" y="195.5"/>
<use href="#k2" x="129.4" y="195.5"/>
<use href="#k2" x="129.9" y="195.5"/>
<use href="#k2" x="130.5" y="195.5"/>
<use href="#k2" x="131.0" y="195.5"/>
<use href="#k2" x="131.5" y="195.5"/>
<use href="#k2" x="132.0" y="195.5"/>
<use href="#k2" x="132.5" y="195.5"/>
<use href="#k2" x="133.1" y="195.5"/>
<use href="#k2" x="133.6" y="195.5"/>
<use href="#k2" x="134.1" y="195.5"/>
<use href="#k2" x="134.6" y="195.5"/>
<use href="#k2" x="135.1" y="195.5"/>
<use href="#k2" x="135.7" y="195.5"/>
<use href="#k2" x="136.2" y="195.5"/>
<use href="#k2" x="136.7" y="195.5"/>
<use href="#k2" x="137.2" y="195.5"/>
<use href="#k2" x="137.7" y="195.5"/>
<use href="#k2" x="138.2" y="195.5"/>
<use href="#k2" x="138.8" y="195.5"/>
<use href="#k2" x="139.3" y="195.5"/>
<use href="#k2" x="139.8" y="195.5"/>
<use href="#k2" x="140.3" y="195.5"/>
<use href="#k2" x="140.8" y="195.5"/>
<use href="#k2" x="141.4" y="195.5"/>
<use href="#k2" x="141.9" y="195.5"/>
<use href="#k2" x="142.4" y="195.5"/>
<use href="#k2" x="142.9" y="195.5"/>
<use href="#k2" x="143.4" y="195.5"/>
<use href="#k2" x="144.0" y="195.5"/>
<use href="#k2" x="144.5" y="195.5"/>
<use href="#k2" x="145.0" y="195.5"/>
<use href="#k2" x="145.5" y="195.5"/>
<use href="#k2" x="146.0" y="195.5"/>
<use href="#k2" x="146.6" y="195.5"/>
<use href="#k2" x="147.1" y="195.5"/>
<use href="#k2" x="147.6" y="195.5"/>
<use href="#k2" x="148.1" y="195.5"/>
<use href="#k2" x="148.6" y="195.5"/>
<use href="#k2" x="149.1" y="195.5"/>
<use href="#k2" x="149.7" y="195.5"/>
<use href="#k2" x="150.2" y="195.5"/>
<use href="#k2" x="150.7" y="195.5"/>
<use href="#k2" x="151.2" y="195.5"/>
<use href="#k2" x="151.7" y="195.5"/>
<use href="#k2" x="152.3" y="195.5"/>
<use href="#k2" x="152.8" y="195.5"/>
<use href="#k2" x="153.3" y="195.5"/>
<use href="#k2" x="153.8" y="195.5"/>
<use href="#k2" x="154.3" y="195.5"/>
<use href="#k2" x="154.9" y="195.5"/>
<use href="#k2" x="155.4" y="195.5"/>
<use href="#k2" x="155.9" y="195.5"/>
<use href="#k2" x="156.4" y="195.5"/>
<use href="#k2" x="156.9" y="195.5"/>
<use href="#k2" x="157.5" y="195.5"/>
<use href="#k2" x="158.0" y="195.5"/>
<use href="#k2" x="158.5" y="195.5"/>
<use href="#k2" x="159.0" y="195.5"/>
<use href="#k2" x="159.5" y="195.5"/>
<use href="#k2" x="160.0" y="195.5"/>
<use href="#k2" x="160.6" y="195.5"/>
<use href="#k2" x="161.1" y="195.5"/>
<use href="#k2" x="161.6" y="195.5"/>
<use href="#k2" x="162.1" y="195.5"/>
<use href="#k2" x="162.6" y="195.5"/>
<use href="#k2" x="163.2" y="195.5"/>
<use href="#k2" x="163.7" y="195.5"/>
<use href="#k2" x="164.2" y="195.5"/>
<use href="#k2" x="164.7" y="195.5"/>
<use href="#k2" x="165.2" y="195.5"/>
<use href="#k2" x="165.8" y="195.5"/>
<use href="#k2" x="166.3" y="195.5"/>
<use href="#k2" x="166.8" y="195.5"/>
<use href="#k2" x="167.3" y="195.5"/>
<use href="#k2" x="167.8" y="195.5"/>
<use href="#k2" x="168.3" y="195.5"/>
<use href="#k2" x="168.9" y="195.5"/>
<use href="#k2" x="169.4" y="195.5"/>
<use href="#k2" x="169.9" y="195.5"/>
<use href="#k2" x="170.4" y="195.5"/>
<use href="#k2" x="170.9" y="195.5"/>
<use href="#k2" x="171.5" y="195.6"/>
<use href="#k2" x="172.0" y="195.6"/>
<use href="#k2" x="172.5" y="195.6"/>
<use href="#k2" x="173.0" y="195.6"/>
<use href="#k2" x="173.5" y="195.6"/>
<use href="#k2" x="174.1" y="195.6"/>
<use href="#k2" x="174.6" y="195.6"/>
<use href="#k2" x="175.1" y="195.6"/>
<use href="#k2" x="175.6" y="195.6"/>
<use href="#k2" x="176.1" y="195.6"/>
<use href="#k2" x="176.7" y="195.6"/>
<use href="#k2" x="177.2" y="195.6"/>
<use href="#k2" x="177.7" y="195.7"/>
<use href="#k2" x="178.2" y="195.7"/>
<use href="#k2" x="178.7" y="195.7"/>
<use href="#k2" x="179.2" y="195.7"/>
<use href="#k2" x="179.8" y="195.7"/>
<use href="#k2" x="180.3" y="195.7"/>
<use href="#k2" x="180.8" y="195.8"/>
<use href="#k2" x="181.3" y="195.8"/>
<use href="#k2" x="181.8" y="195.8"/>
<use href="#k2" x="182.4" y="195.8"/>
<use href="#k2" x="182.9" y="195.9"/>
<use href="#k2" x="183.4" y="195.9"/>
<use href="#k2" x="183.9" y="195.9"/>
<use href="#k2" x="184.4" y="196.0"/>
<use href="#k2" x="185.0" y="196.0"/>
<use href="#k2" x="185.5" y="196.1"/>
<use href="#k2" x="186.0" y="196.1"/>
<use href="#k2" x="186.5" y="196.2"/>
<use href="#k2" x="187.0" y="196.2"/>
<use href="#k2" x="187.6" y="196.3"/>
<use href="#k2" x="188.1" y="196.3"/>
<use href="#k2" x="188.6" y="196.4"/>
<use href="#k2" x="189.1" y="196.5"/>
<use href="#k2" x="189.6" y="196.6"/>
<use href="#k2" x="190.1" y="196.7"/>
<use href="#k2" x="190.7" y="196.7"/>
<use href="#k2" x="191.2" y="196.8"/>
<use href="#k2" x="191.7" y="196.9"/>
<use href="#k2" x="192.2" y="197.1"/>
<use href="#k2" x="192.7" y="197.2"/>
<use href="#k2" x="193.3" y="197.3"/>
<use href="#k2" x="193.8" y="197.4"/>
<use href="#k2" x="194.3" y="197.6"/>
<use href="#k2" x="194.8" y="197.7"/>
<use href="#k2" x="195.3" y="197.9"/>
<use href="#k2" x="195.9" y="198.1"/>
<use href="#k2" x="196.4" y="198.3"/>
<use href="#k2" x="196.9" y="198.5"/>
<use href="#k2" x="197.4" y="198.7"/>
<use href="#k2" x="197.9" y="198.9"/>
<use href="#k2" x="198.5" y="199.2"/>
<use href="#k2" x="199.0" y="199.4"/>
<use href="#k2" x="199.5" y="199.7"/>
<use href="#k2" x="200.0" y="200.0"/>
<use href="#k2" x="200.5" y="200.3"/>
<use href="#k2" x="201.0" y="200.6"/>
<use href="#k2" x="201.6" y="200.9"/>
<use href="#k2" x="202.1" y="201.3"/>
<use href="#k2" x="202.6" y="201.7"/>
<use href="#k2" x="203.1" y="202.1"/>
<use href="#k2" x="203.6" y="202.5"/>
<use href="#k2" x="204.0" y="202.8"/>
<use href="#k2" x="204.3" y="203.1"/>
<use href="#k2" x="204.7" y="203.4"/>
<use href="#k2" x="205.0" y="203.7"/>
<use href="#k2" x="205.4" y="204.1"/>
<use href="#k2" x="205.7" y="204.4"/>
<use href="#k2" x="206.1" y="204.8"/>
<use href="#k2" x="206.4" y="205.2"/>
<use href="#k2" x="206.8" y="205.6"/>
<use href="#k2" x="207.1" y="206.0"/>
<use href="#k2" x="207.4" y="206.4"/>
<use href="#k2" x="207.8" y="206.8"/>
<use href="#k2" x="208.1" y="207.3"/>
<use href="#k2" x="208.5" y="207.7"/>
<use href="#k2" x="208.8" y="208.2"/>
<use href="#k2" x="209.2" y="208.7"/>
<use href="#k2" x="209.5" y="209.2"/>
<use href="#k2" x="209.9" y="209.7"/>
<use href="#k2" x="210.2" y="210.3"/>
<use href="#k2" x="210.6" y="210.8"/>
<use href="#k2" x="210.9" y="211.4"/>
<use href="#k2" x="211.3" y="212.0"/>
<use href="#k2" x="211.6" y="212.6"/>
<use href="#k2" x="211.9" y="213.2"/>
<use href="#k2" x="212.3" y="213.8"/>
<use href="#k2" x="212.6" y="214.5"/>
<use href="#k2" x="213.0" y="215.2"/>
<use href="#k2" x="213.3" y="215.9"/>
<use href="#k2" x="213.7" y="216.6"/>
<use href="#k2" x="214.0" y="217.3"/>
<use href="#k2" x="214.4" y="218.1"/>
<use href="#k2" x="214.7" y="218.9"/>
<use href="#k2" x="215.1" y="219.7"/>
<use href="#k2" x="215.4" y="220.5"/>
<use href="#k2" x="215.6" y="220.9"/>
<use href="#k2" x="215.8" y="221.3"/>
<use href="#k2" x="215.9" y="221.8"/>
<use href="#k2" x="216.1" y="222.2"/>
<use href="#k2" x="216.3" y="222.7"/>
<use href="#k2" x="216.4" y="223.1"/>
<use href="#k2" x="216.6" y="223.6"/>
<use href="#k2" x="216.8" y="224.0"/>
<use href="#k2" x="217.0" y="224.5"/>
<use href="#k2" x="217.1" y="224.9"/>
<use href="#k2" x="217.3" y="225.4"/>
<use href="#k2" x="217.5" y="225.9"/>
<use href="#k2" x="217.7" y="226.4"/>
<use href="#k2" x="217.8" y="226.9"/>
<use href="#k2" x="218.0" y="227.4"/>
<use href="#k2" x="218.2" y="227.9"/>
<use href="#k2" x="218.3" y="228.4"/>
<use href="#k2" x="218.5" y="228.9"/>
<use href="#k2" x="218.7" y="229.5"/>
<use href="#k2" x="218.9" y="230.0"/>
<use href="#k2" x="219.0" y="230.5"/>
<use href="#k2" x="219.2" y="231.1"/>
<use href="#k2" x="219.4" y="231.6"/>
<use href="#k2" x="219.6" y="232.2"/>
<use href="#k2" x="219.7" y="232.7"/>
<use href="#k2" x="219.9" y="233.3"/>
<use href="#k2" x="220.1" y="233.9"/>
<use href="#k2" x="220.2" y="234.5"/>
<use href="#k2" x="220.4" y="235.0"/>
<use href="#k2" x="220.6" y="235.6"/>
<use href="#k2" x="220.8" y="236.2"/>
<use href="#k2" x="220.9" y="236.8"/>
<use href="#k2" x="221.1" y="237.5"/>
<use href="#k2" x="221.3" y="238.1"/>
<use href="#k2" x="221.5" y="238.7"/>
<use href="#k2" x="221.6" y="239.3"/>
<use href="#k2" x="221.8" y="240.0"/>
<use href="#k2" x="222.0" y="240.6"/>
<use href="#k2" x="222.2" y="241.3"/>
<use href="#k2" x="222.3" y="241.9"/>
<use href="#k2" x="222.5" y="242.6"/>
<use href="#k2" x="222.7" y="243.3"/>
<use href="#k2" x="222.8" y="244.0"/>
<use href="#k2" x="223.0" y="244.6"/>
<use href="#k2" x="223.2" y="245.3"/>
<use href="#k2" x="223.4" y="246.0"/>
<use href="#k2" x="223.5" y="246.7"/>
<use href="#k2" x="223.7" y="247.5"/>
<use href="#k2" x="223.9" y="248.2"/>
<use href="#k2" x="224.1" y="248.9"/>
<use href="#k2" x="224.2" y="249.6"/>
<use href="#k2" x="224.4" y="250.4"/>
<use href="#k2" x="224.6" y="251.1"/>
<use href="#k2" x="224.7" y="251.9"/>
<use href="#k2" x="224.9" y="252.6"/>
<use href="#k2" x="225.1" y="253.4"/>
<use href="#k2" x="225.3" y="254.2"/>
<use href="#k2" x="225.4" y="255.0"/>
<use href="#k2" x="225.6" y="255.8"/>
<use href="#k2" x="225.8" y="256.5"/>
<use href="#k2" x="226.0" y="257.3"/>
<use href="#k2" x="226.1" y="258.2"/>
<use href="#k2" x="226.3" y="259.0"/>
<use href="#k2" x="226.5" y="259.8"/>
<use href="#k2" x="226.7" y="260.6"/>
<use href="#k2" x="226.8" y="261.5"/>
<use href="#k2" x="227.0" y="262.3"/>
<use href="#k2" x="227.2" y="263.1"/>
<use href="#k2" x="227.3" y="264.0"/>
<use href="#k2" x="227.5" y="264.9"/>
<use href="#k2" x="227.7" y="265.7"/>
<use href="#k2" x="227.9" y="266.6"/>
<use href="#k2" x="228.0" y="267.5"/>
<use href="#k2" x="228.2" y="268.4"/>
<use href="#k2" x="228.4" y="269.3"/>
<use href="#k2" x="228.6" y="270.2"/>
<use href="#k2" x="228.7" y="271.1"/>
<use href="#k2" x="228.9" y="272.0"/>
<use href="#k2" x="229.1" y="272.9"/>
<use href="#k2" x="229.2" y="273.9"/>
<use href="#k2" x="229.4" y="274.8"/>
<use href="#k2" x="229.6" y="275.7"/>
<use href="#k2" x="229.8" y="276.7"/>
<use href="#k2" x="229.9" y="277.6"/>
<use href="#k2" x="230.1" y="278.6"/>
<use href="#k2" x="230.3" y="279.6"/>
<use href="#k2" x="230.5" y="280.5"/>
<use href="#k2" x="230.6" y="281.5"/>
<use href="#k2" x="230.8" y="282.5"/>
<use href="#k2" x="231.0" y="283.5"/>
<use href="#k2" x="231.1" y="284.5"/>
<use href="#k2" x="231.3" y="285.5"/>
<use href="#k2" x="231.5" y="286.5"/>
<use href="#k2" x="231.7" y="287.5"/>
<use href="#k2" x="231.8" y="288.5"/>
<use href="#k2" x="232.0" y="289.5"/>
<use href="#k2" x="232.2" y="290.6"/>
<use href="#k2" x="232.4" y="291.6"/>
<use href="#k2" x="232.5" y="292.6"/>
<use href="#k2" x="232.7" y="293.7"/>
<use href="#k2" x="232.9" y="294.7"/>
<use href="#k2" x="233.1" y="295.8"/>
<use href="#k2" x="233.2" y="296.9"/>
<use href="#k2" x="233.4" y="297.9"/>
<use href="#k2" x="233.6" y="299.0"/>
<use href="#k2" x="233.7" y="300.1"/>
<use href="#k2" x="233.9" y="301.1"/>
<use href="#k2" x="234.1" y="302.2"/>
<use href="#k2" x="234.3" y="303.3"/>
<use href="#k2" x="234.4" y="304.4"/>
<use href="#k2" x="234.6" y="305.5"/>
<use href="#k2" x="234.8" y="306.6"/>
<use href="#k2" x="235.0" y="307.7"/>
<use href="#k2" x="235.1" y="308.8"/>
<use href="#k2" x="235.3" y="310.0"/>
<use href="#k2" x="235.5" y="311.1"/>
<use href="#k2" x="235.6" y="312.2"/>
<use href="#k2" x="235.8" y="313.3"/>
<use href="#k2" x="236.0" y="314.5"/>
<use href="#k2" x="236.2" y="315.6"/>
<use href="#k2" x="236.3" y="316.8"/>
<use href="#k2" x="236.5" y="317.9"/>
<use href="#k2" x="236.7" y="319.0"/>
<use href="#k2" x="236.9" y="320.2"/>
<use href="#k2" x="237.0" y="321.3"/>
<use href="#k2" x="237.2" y="322.5"/>
<use href="#k2" x="237.4" y="323.7"/>
<use href="#k2" x="237.6" y="324.8"/>
<use href="#k2" x="237.7" y="326.0"/>
<use href="#k2" x="237.9" y="327.2"/>
<use href="#k2" x="238.1" y="328.3"/>
<use href="#k2" x="238.2" y="329.5"/>
<use href="#k2" x="238.4" y="330.7"/>
<use href="#k2" x="238.6" y="331.9"/>
<use href="#k2" x="238.8" y="333.0"/>
<use href="#k2" x="238.9" y="334.2"/>
<use href="#k2" x="239.1" y="335.4"/>
<use href="#k2" x="239.3" y="336.6"/>
<use href="#k2" x="239.5" y="337.8"/>
<use href="#k2" x="239.6" y="339.0"/>
<use href="#k2" x="239.8" y="340.1"/>
<use href="#k2" x="240.0" y="341.3"/>
<use href="#k2" x="240.1" y="342.5"/>
<use href="#k2" x="240.3" y="343.7"/>
<use href="#k2" x="240.5" y="344.9"/>
<use href="#k2" x="240.7" y="346.1"/>
<use href="#k2" x="240.8" y="347.3"/>
<use href="#k2" x="241.0" y="348.5"/>
<use href="#k2" x="241.2" y="349.7"/>
<use href="#k2" x="241.4" y="350.9"/>
<use href="#k2" x="241.5" y="352.1"/>
<use href="#k2" x="241.7" y="353.3"/>
<use href="#k2" x="241.9" y="354.4"/>
<use href="#k2" x="242.0" y="355.6"/>
<use href="#k2" x="242.2" y="356.8"/>
<use href="#k2" x="242.4" y="358.0"/>
<use href="#k2" x="242.6" y="359.2"/>
<use href="#k2" x="242.7" y="360.4"/>
<use href="#k2" x="242.9" y="361.6"/>
<use href="#k2" x="243.1" y="362.8"/>
<use href="#k2" x="243.3" y="364.0"/>
<use href="#k2" x="243.4" y="365.1"/>
<use href="#k2" x="243.6" y="366.3"/>
<use href="#k2" x="243.8" y="367.5"/>
<use href="#k2" x="244.0" y="368.7"/>
<use href="#k2" x="244.1" y="369.8"/>
<use href="#k2" x="244.3" y="371.0"/>
<use href="#k2" x="244.5" y="372.2"/>
<use href="#k2" x="244.6" y="373.3"/>
<use href="#k2" x="244.8" y="374.5"/>
<use href="#k2" x="245.0" y="375.7"/>
<use href="#k2" x="245.2" y="376.8"/>
<use href="#k2" x="245.3" y="378.0"/>
<use href="#k2" x="245.5" y="379.1"/>
<use href="#k2" x="245.7" y="380.3"/>
<use href="#k2" x="245.9" y="381.4"/>
<use href="#k2" x="246.0" y="382.5"/>
<use href="#k2" x="246.2" y="383.7"/>
<use href="#k2" x="246.4" y="384.8"/>
<use href="#k2" x="246.5" y="385.9"/>
<use href="#k2" x="246.7" y="387.0"/>
<use href="#k2" x="246.9" y="388.1"/>
<use href="#k2" x="247.1" y="389.3"/>
<use href="#k2" x="247.2" y="390.4"/>
<use href="#k2" x="247.4" y="391.5"/>
<use href="#k2" x="247.6" y="392.5"/>
<use href="#k2" x="247.8" y="393.6"/>
<use href="#k2" x="247.9" y="394.7"/>
<use href="#k2" x="248.1" y="395.8"/>
<use href="#k2" x="248.3" y="396.8"/>
<use href="#k2" x="248.4" y="397.9"/>
<use href="#k2" x="248.6" y="399.0"/>
<use href="#k2" x="248.8" y="400.0"/>
<use href="#k2" x="249.0" y="401.0"/>
<use href="#k2" x="249.1" y="402.1"/>
<use href="#k2" x="249.3" y="403.1"/>
<use href="#k2" x="249.5" y="404.1"/>
<use href="#k2" x="249.7" y="405.1"/>
<use href="#k2" x="249.8" y="406.1"/>
<use href="#k2" x="250.0" y="407.1"/>
<use href="#k2" x="250.2" y="408.1"/>
<use href="#k2" x="250.4" y="409.1"/>
<use href="#k2" x="250.5" y="410.1"/>
<use href="#k2" x="250.7" y="411.0"/>
<use href="#k2" x="250.9" y="412.0"/>
<use href="#k2" x="251.0" y="412.9"/>
<use href="#k2" x="251.2" y="413.9"/>
<use href="#k2" x="251.4" y="414.8"/>
<use href="#k2" x="251.6" y="415.7"/>
<use href="#k2" x="251.7" y="416.6"/>
<use href="#k2" x="251.9" y="417.5"/>
<use href="#k2" x="252.1" y="418.4"/>
<use href="#k2" x="252.3" y="419.3"/>
<use href="#k2" x="252.4" y="420.1"/>
<use href="#k2" x="252.6" y="421.0"/>
<use href="#k2" x="252.8" y="421.8"/>
<use href="#k2" x="252.9" y="422.7"/>
<use href="#k2" x="253.1" y="423.5"/>
<use href="#k2" x="253.3" y="424.3"/>
<use href="#k2" x="253.5" y="425.1"/>
<use href="#k2" x="253.6" y="425.9"/>
<use href="#k2" x="253.8" y="426.7"/>
<use href="#k2" x="254.0" y="427.5"/>
<use href="#k2" x="254.2" y="428.2"/>
<use href="#k2" x="254.3" y="429.0"/>
<use href="#k2" x="254.5" y="429.7"/>
<use href="#k2" x="254.7" y="430.4"/>
<use href="#k2" x="254.8" y="431.1"/>
<use href="#k2" x="255.0" y="431.8"/>
<use href="#k2" x="255.2" y="432.5"/>
<use href="#k2" x="255.4" y="433.2"/>
<use href="#k2" x="255.5" y="433.9"/>
<use href="#k2" x="255.7" y="434.5"/>
<use href="#k2" x="255.9" y="435.2"/>
<use href="#k2" x="256.1" y="435.8"/>
<use href="#k2" x="256.2" y="436.4"/>
<use href="#k2" x="256.4" y="437.0"/>
<use href="#k2" x="256.6" y="437.6"/>
<use href="#k2" x="256.8" y="438.2"/>
<use href="#k2" x="256.9" y="438.7"/>
<use href="#k2" x="257.1" y="439.3"/>
<use href="#k2" x="257.3" y="439.8"/>
<use href="#k2" x="257.4" y="440.3"/>
<use href="#k2" x="257.6" y="440.8"/>
<use href="#k2" x="257.8" y="441.3"/>
<use href="#k2" x="258.0" y="441.8"/>
<use href="#k2" x="258.1" y="442.3"/>
<use href="#k2" x="258.3" y="442.7"/>
<use href="#k2" x="258.5" y="443.2"/>
<use href="#k2" x="258.7" y="443.6"/>
<use href="#k2" x="259.0" y="444.4"/>
<use href="#k2" x="259.3" y="445.1"/>
<use href="#k2" x="259.7" y="445.8"/>
<use href="#k2" x="260.0" y="446.5"/>
<use href="#k2" x="260.4" y="447.0"/>
<use href="#k2" x="260.7" y="447.6"/>
<use href="#k2" x="261.1" y="448.0"/>
<use href="#k2" x="261.4" y="448.4"/>
<use href="#k2" x="261.8" y="448.7"/>
<use href="#k2" x="262.3" y="449.1"/>
<use href="#k2" x="262.8" y="449.4"/>
<use href="#k2" x="263.3" y="449.5"/>
<use href="#k2" x="263.8" y="449.5"/>
<use href="#k2" x="264.4" y="449.3"/>
<use href="#k2" x="264.9" y="449.0"/>
<use href="#k2" x="265.4" y="448.6"/>
<use href="#k2" x="265.7" y="448.2"/>
<use href="#k2" x="266.1" y="447.8"/>
<use href="#k2" x="266.4" y="447.3"/>
<use href="#k2" x="266.8" y="446.8"/>
<use href="#k2" x="267.1" y="446.2"/>
<use href="#k2" x="267.5" y="445.5"/>
<use href="#k2" x="267.8" y="444.8"/>
<use href="#k2" x="268.2" y="444.0"/>
<use href="#k2" x="268.5" y="443.2"/>
<use href="#k2" x="268.7" y="442.7"/>
<use href="#k2" x="268.9" y="442.3"/>
<use href="#k2" x="269.0" y="441.8"/>
<use href="#k2" x="269.2" y="441.3"/>
<use href="#k2" x="269.4" y="440.8"/>
<use href="#k2" x="269.6" y="440.3"/>
<use href="#k2" x="269.7" y="439.8"/>
<use href="#k2" x="269.9" y="439.3"/>
<use href="#k2" x="270.1" y="438.7"/>
<use href="#k2" x="270.2" y="438.2"/>
<use href="#k2" x="270.4" y="437.6"/>
<use href="#k2" x="270.6" y="437.0"/>
<use href="#k2" x="270.8" y="436.4"/>
<use href="#k2" x="270.9" y="435.8"/>
<use href="#k2" x="271.1" y="435.2"/>
<use href="#k2" x="271.3" y="434.5"/>
<use href="#k2" x="271.5" y="433.9"/>
<use href="#k2" x="271.6" y="433.2"/>
<use href="#k2" x="271.8" y="432.5"/>
<use href="#k2" x="272.0" y="431.8"/>
<use href="#k2" x="272.1" y="431.1"/>
<use href="#k2" x="272.3" y="430.4"/>
<use href="#k2" x="272.5" y="429.7"/>
<use href="#k2" x="272.7" y="429.0"/>
<use href="#k2" x="272.8" y="428.2"/>
<use href="#k2" x="273.0" y="427.5"/>
<use href="#k2" x="273.2" y="426.7"/>
<use href="#k2" x="273.4" y="425.9"/>
<use href="#k2" x="273.5" y="425.1"/>
<use href="#k2" x="273.7" y="424.3"/>
<use href="#k2" x="273.9" y="423.5"/>
<use href="#k2" x="274.1" y="422.7"/>
<use href="#k2" x="274.2" y="421.8"/>
<use href="#k2" x="274.4" y="421.0"/>
<use href="#k2" x="274.6" y="420.1"/>
<use href="#k2" x="274.7" y="419.3"/>
<use href="#k2" x="274.9" y="418.4"/>
<use href="#k2" x="275.1" y="417.5"/>
<use href="#k2" x="275.3" y="416.6"/>
<use href="#k2" x="275.4" y="415.7"/>
<use href="#k2" x="275.6" y="414.8"/>
<use href="#k2" x="275.8" y="413.9"/>
<use href="#k2" x="276.0" y="412.9"/>
<use href="#k2" x="276.1" y="412.0"/>
<use href="#k2" x="276.3" y="411.0"/>
<use href="#k2" x="276.5" y="410.1"/>
<use href="#k2" x="276.6" y="409.1"/>
<use href="#k2" x="276.8" y="408.1"/>
<use href="#k2" x="277.0" y="407.1"/>
<use href="#k2" x="277.2" y="406.1"/>
<use href="#k2" x="277.3" y="405.1"/>
<use href="#k2" x="277.5" y="404.1"/>
<use href="#k2" x="277.7" y="403.1"/>
<use href="#k2" x="277.9" y="402.1"/>
<use href="#k2" x="278.0" y="401.0"/>
<use href="#k2" x="278.2" y="400.0"/>
<use href="#k2" x="278.4" y="399.0"/>
<use href="#k2" x="278.6" y="397.9"/>
<use href="#k2" x="278.7" y="396.8"/>
<use href="#k2" x="278.9" y="395.8"/>
<use href="#k2" x="279.1" y="394.7"/>
<use href="#k2" x="279.2" y="393.6"/>
<use href="#k2" x="279.4" y="392.5"/>
<use href="#k2" x="279.6" y="391.5"/>
<use href="#k2" x="279.8" y="390.4"/>
<use href="#k2" x="279.9" y="389.3"/>
<use href="#k2" x="280.1" y="388.1"/>
<use href="#k2" x="280.3" y="387.0"/>
<use href="#k2" x="280.5" y="385.9"/>
<use href="#k2" x="280.6" y="384.8"/>
<use href="#k2" x="280.8" y="383.7"/>
<use href="#k2" x="281.0" y="382.5"/>
<use href="#k2" x="281.1" y="381.4"/>
<use href="#k2" x="281.3" y="380.3"/>
<use href="#k2" x="281.5" y="379.1"/>
<use href="#k2" x="281.7" y="378.0"/>
<use href="#k2" x="281.8" y="376.8"/>
<use href="#k2" x="282.0" y="375.7"/>
<use href="#k2" x="282.2" y="374.5"/>
<use href="#k2" x="282.4" y="373.3"/>
<use href="#k2" x="282.5" y="372.2"/>
<use href="#k2" x="282.7" y="371.0"/>
<use href="#k2" x="282.9" y="369.8"/>
<use href="#k2" x="283.0" y="368.7"/>
<use href="#k2" x="283.2" y="367.5"/>
<use href="#k2" x="283.4" y="366.3"/>
<use href="#k2" x="283.6" y="365.1"/>
<use href="#k2" x="283.7" y="364.0"/>
<use href="#k2" x="283.9" y="362.8"/>
<use href="#k2" x="284.1" y="361.6"/>
<use href="#k2" x="284.3" y="360.4"/>
<use href="#k2" x="284.4" y="359.2"/>
<use href="#k2" x="284.6" y="358.0"/>
<use href="#k2" x="284.8" y="356.8"/>
<use href="#k2" x="285.0" y="355.6"/>
<use href="#k2" x="285.1" y="354.4"/>
<use href="#k2" x="285.3" y="353.3"/>
<use href="#k2" x="285.5" y="352.1"/>
<use href="#k2" x="285.6" y="350.9"/>
<use href="#k2" x="285.8" y="349.7"/>
<use href="#k2" x="286.0" y="348.5"/>
<use href="#k2" x="286.2" y="347.3"/>
<use href="#k2" x="286.3" y="346.1"/>
<use href="#k2" x="286.5" y="344.9"/>
<use href="#k2" x="286.7" y="343.7"/>
<use href="#k2" x="286.9" y="342.5"/>
<use href="#k2" x="287.0" y="341.3"/>
<use href="#k2" x="287.2" y="340.1"/>
<use href="#k2" x="287.4" y="339.0"/>
<use href="#k2" x="287.5" y="337.8"/>
<use href="#k2" x="287.7" y="336.6"/>
<use href="#k2" x="287.9" y="335.4"/>
<use href="#k2" x="288.1" y="334.2"/>
<use href="#k2" x="288.2" y="333.0"/>
<use href="#k2" x="288.4" y="331.9"/>
<use href="#k2" x="288.6" y="330.7"/>
<use href="#k2" x="288.8" y="329.5"/>
<use href="#k2" x="288.9" y="328.3"/>
<use href="#k2" x="289.1" y="327.2"/>
<use href="#k2" x="289.3" y="326.0"/>
<use href="#k2" x="289.4" y="324.8"/>
<use href="#k2" x="289.6" y="323.7"/>
<use href="#k2" x="289.8" y="322.5"/>
<use href="#k2" x="290.0" y="321.3"/>
<use href="#k2" x="290.1" y="320.2"/>
<use href="#k2" x="290.3" y="319.0"/>
<use href="#k2" x="290.5" y="317.9"/>
<use href="#k2" x="290.7" y="316.8"/>
<use href="#k2" x="290.8" y="315.6"/>
<use href="#k2" x="291.0" y="314.5"/>
<use href="#k2" x="291.2" y="313.3"/>
<use href="#k2" x="291.4" y="312.2"/>
<use href="#k2" x="291.5" y="311.1"/>
<use href="#k2" x="291.7" y="310.0"/>
<use href="#k2" x="291.9" y="308.8"/>
<use href="#k2" x="292.0" y="307.7"/>
<use href="#k2" x="292.2" y="306.6"/>
<use href="#k2" x="292.4" y="305.5"/>
<use href="#k2" x="292.6" y="304.4"/>
<use href="#k2" x="292.7" y="303.3"/>
<use href="#k2" x="292.9" y="302.2"/>
<use href="#k2" x="293.1" y="301.1"/>
<use href="#k2" x="293.3" y="300.1"/>
<use href="#k2" x="293.4" y="299.0"/>
<use href="#k2" x="293.6" y="297.9"/>
<use href="#k2" x="293.8" y="296.9"/>
<use href="#k2" x="293.9" y="295.8"/>
<use href="#k2" x="294.1" y="294.7"/>
<use href="#k2" x="294.3" y="293.7"/>
<use href="#k2" x="294.5" y="292.6"/>
<use href="#k2" x="294.6" y="291.6"/>
<use href="#k2" x="294.8" y="290.6"/>
<use href="#k2" x="295.0" y="289.5"/>
<use href="#k2" x="295.2" y="288.5"/>
<use href="#k2" x="295.3" y="287.5"/>
<use href="#k2" x="295.5" y="286.5"/>
<use href="#k2" x="295.7" y="285.5"/>
<use href="#k2" x="295.9" y="284.5"/>
<use href="#k2" x="296.0" y="283.5"/>
<use href="#k2" x="296.2" y="282.5"/>
<use href="#k2" x="296.4" y="281.5"/>
<use href="#k2" x="296.5" y="280.5"/>
<use href="#k2" x="296.7" y="279.6"/>
<use href="#k2" x="296.9" y="278.6"/>
<use href="#k2" x="297.1" y="277.6"/>
<use href="#k2" x="297.2" y="276.7"/>
<use href="#k2" x="297.4" y="275.7"/>
<use href="#k2" x="297.6" y="274.8"/>
<use href="#k2" x="297.8" y="273.9"/>
<use href="#k2" x="297.9" y="272.9"/>
<use href="#k2" x="298.1" y="272.0"/>
<use href="#k2" x="298.3" y="271.1"/>
<use href="#k2" x="298.4" y="270.2"/>
<use href="#k2" x="298.6" y="269.3"/>
<use href="#k2" x="298.8" y="268.4"/>
<use href="#k2" x="299.0" y="267.5"/>
<use href="#k2" x="299.1" y="266.6"/>
<use href="#k2" x="299.3" y="265.7"/>
<use href="#k2" x="299.5" y="264.9"/>
<use href="#k2" x="299.7" y="264.0"/>
<use href="#k2" x="299.8" y="263.1"/>
<use href="#k2" x="300.0" y="262.3"/>
<use href="#k2" x="300.2" y="261.5"/>
<use href="#k2" x="300.3" y="260.6"/>
<use href="#k2" x="300.5" y="259.8"/>
<use href="#k2" x="300.7" y="259.0"/>
<use href="#k2" x="300.9" y="258.2"/>
<use href="#k2" x="301.0" y="257.3"/>
<use href="#k2" x="301.2" y="256.5"/>
<use href="#k2" x="301.4" y="255.8"/>
<use href="#k2" x="301.6" y="255.0"/>
<use href="#k2" x="301.7" y="254.2"/>
<use href="#k2" x="301.9" y="253.4"/>
<use href="#k2" x="302.1" y="252.6"/>
<use href="#k2" x="302.3" y="251.9"/>
<use href="#k2" x="302.4" y="251.1"/>
<use href="#k2" x="302.6" y="250.4"/>
<use href="#k2" x="302.8" y="249.6"/>
<use href="#k2" x="302.9" y="248.9"/>
<use href="#k2" x="303.1" y="248.2"/>
<use href="#k2" x="303.3" y="247.5"/>
<use href="#k2" x="303.5" y="246.7"/>
<use href="#k2" x="303.6" y="246.0"/>
<use href="#k2" x="303.8" y="245.3"/>
<use href="#k2" x="304.0" y="244.6"/>
<use href="#k2" x="304.2" y="244.0"/>
<use href="#k2" x="304.3" y="243.3"/>
<use href="#k2" x="304.5" y="242.6"/>
<use href="#k2" x="304.7" y="241.9"/>
<use href="#k2" x="304.8" y="241.3"/>
<use href="#k2" x="305.0" y="240.6"/>
<use href="#k2" x="305.2" y="240.0"/>
<use href="#k2" x="305.4" y="239.3"/>
<use href="#k2" x="305.5" y="238.7"/>
<use href="#k2" x="305.7" y="238.1"/>
<use href="#k2" x="305.9" y="237.5"/>
<use href="#k2" x="306.1" y="236.8"/>
<use href="#k2" x="306.2" y="236.2"/>
<use href="#k2" x="306.4" y="235.6"/>
<use href="#k2" x="306.6" y="235.0"/>
<use href="#k2" x="306.8" y="234.5"/>
<use href="#k2" x="306.9" y="233.9"/>
<use href="#k2" x="307.1" y="233.3"/>
<use href="#k2" x="307.3" y="232.7"/>
<use href="#k2" x="307.4" y="232.2"/>
<use href="#k2" x="307.6" y="231.6"/>
<use href="#k2" x="307.8" y="231.1"/>
<use href="#k2" x="308.0" y="230.5"/>
<use href="#k2" x="308.1" y="230.0"/>
<use href="#k2" x="308.3" y="229.5"/>
<use href="#k2" x="308.5" y="228.9"/>
<use href="#k2" x="308.7" y="228.4"/>
<use href="#k2" x="308.8" y="227.9"/>
<use href="#k2" x="309.0" y="227.4"/>
<use href="#k2" x="309.2" y="226.9"/>
<use href="#k2" x="309.3" y="226.4"/>
<use href="#k2" x="309.5" y="225.9"/>
<use href="#k2" x="309.7" y="225.4"/>
<use href="#k2" x="309.9" y="224.9"/>
<use href="#k2" x="310.0" y="224.5"/>
<use href="#k2" x="310.2" y="224.0"/>
<use href="#k2" x="310.4" y="223.6"/>
<use href="#k2" x="310.6" y="223.1"/>
<use href="#k2" x="310.7" y="222.7"/>
<use href="#k2" x="310.9" y="222.2"/>
<use href="#k2" x="311.1" y="221.8"/>
<use href="#k2" x="311.2" y="221.3"/>
<use href="#k2" x="311.4" y="220.9"/>
<use href="#k2" x="311.6" y="220.5"/>
<use href="#k2" x="311.9" y="219.7"/>
<use href="#k2" x="312.3" y="218.9"/>
<use href="#k2" x="312.6" y="218.1"/>
<use href="#k2" x="313.0" y="217.3"/>
<use href="#k2" x="313.3" y="216.6"/>
<use href="#k2" x="313.7" y="215.9"/>
<use href="#k2" x="314.0" y="215.2"/>
<use href="#k2" x="314.4" y="214.5"/>
<use href="#k2" x="314.7" y="213.8"/>
<use href="#k2" x="315.1" y="213.2"/>
<use href="#k2" x="315.4" y="212.6"/>
<use href="#k2" x="315.7" y="212.0"/>
<use href="#k2" x="316.1" y="211.4"/>
<use href="#k2" x="316.4" y="210.8"/>
<use href="#k2" x="316.8" y="210.3"/>
<use href="#k2" x="317.1" y="209.7"/>
<use href="#k2" x="317.5" y="209.2"/>
<use href="#k2" x="317.8" y="208.7"/>
<use href="#k2" x="318.2" y="208.2"/>
<use href="#k2" x="318.5" y="207.7"/>
<use href="#k2" x="318.9" y="207.3"/>
<use href="#k2" x="319.2" y="206.8"/>
<use href="#k2" x="319.6" y="206.4"/>
<use href="#k2" x="319.9" y="206.0"/>
<use href="#k2" x="320.2" y="205.6"/>
<use href="#k2" x="320.6" y="205.2"/>
<use href="#k2" x="320.9" y="204.8"/>
<use href="#k2" x="321.3" y="204.4"/>
<use href="#k2" x="321.6" y="204.1"/>
<use href="#k2" x="322.0" y="203.7"/>
<use href="#k2" x="322.3" y="203.4"/>
<use href="#k2" x="322.7" y="203.1"/>
<use href="#k2" x="323.0" y="202.8"/>
<use href="#k2" x="323.4" y="202.5"/>
<use href="#k2" x="323.9" y="202.1"/>
<use href="#k2" x="324.4" y="201.7"/>
<use href="#k2" x="324.9" y="201.3"/>
<use href="#k2" x="325.4" y="200.9"/>
<use href="#k2" x="326.0" y="200.6"/>
<use href="#k2" x="326.5" y="200.3"/>
<use href="#k2" x="327.0" y="200.0"/>
<use href="#k2" x="327.5" y="199.7"/>
<use href="#k2" x="328.0" y="199.4"/>
<use href="#k2" x="328.5" y="199.2"/>
<use href="#k2" x="329.1" y="198.9"/>
<use href="#k2" x="329.6" y="198.7"/>
<use href="#k2" x="330.1" y="198.5"/>
<use href="#k2" x="330.6" y="198.3"/>
<use href="#k2" x="331.1" y="198.1"/>
<use href="#k2" x="331.7" y="197.9"/>
<use href="#k2" x="332.2" y="197.7"/>
<use href="#k2" x="332.7" y="197.6"/>
<use href="#k2" x="333.2" y="197.4"/>
<use href="#k2" x="333.7" y="197.3"/>
<use href="#k2" x="334.3" y="197.2"/>
<use href="#k2" x="334.8" y="197.1"/>
<use href="#k2" x="335.3" y="196.9"/>
<use href="#k2" x="335.8" y="196.8"/>
<use href="#k2" x="336.3" y="196.7"/>
<use href="#k2" x="336.9" y="196.7"/>
<use href="#k2" x="337.4" y="196.6"/>
<use href="#k2" x="337.9" y="196.5"/>
<use href="#k2" x="338.4" y="196.4"/>
<use href="#k2" x="338.9" y="196.3"/>
<use href="#k2" x="339.4" y="196.3"/>
<use href="#k2" x="340.0" y="196.2"/>
<use href="#k2" x="340.5" y="196.2"/>
<use href="#k2" x="341.0" y="196.1"/>
<use href="#k2" x="341.5" y="196.1"/>
<use href="#k2" x="342.0" y="196.0"/>
<use href="#k2" x="342.6" y="196.0"/>
<use href="#k2" x="343.1" y="195.9"/>
<use href="#k2" x="343.6" y="195.9"/>
<use href="#k2" x="344.1" y="195.9"/>
<use href="#k2" x="344.6" y="195.8"/>
<use href="#k2" x="345.2" y="195.8"/>
<use href="#k2" x="345.7" y="195.8"/>
<use href="#k2" x="346.2" y="195.8"/>
<use href="#k2" x="346.7" y="195.7"/>
<use href="#k2" x="347.2" y="195.7"/>
<use href="#k2" x="347.8" y="195.7"/>
<use href="#k2" x="348.3" y="195.7"/>
<use href="#k2" x="348.8" y="195.7"/>
<use href="#k2" x="349.3" y="195.7"/>
<use href="#k2" x="349.8" y="195.6"/>
<use href="#k2" x="350.3" y="195.6"/>
<use href="#k2" x="350.9" y="195.6"/>
<use href="#k2" x="351.4" y="195.6"/>
<use href="#k2" x="351.9" y="195.6"/>
<use href="#k2" x="352.4" y="195.6"/>
<use href="#k2" x="352.9" y="195.6"/>
<use href="#k2" x="353.5" y="195.6"/>
<use href="#k2" x="354.0" y="195.6"/>
<use href="#k2" x="354.5" y="195.6"/>
<use href="#k2" x="355.0" y="195.6"/>
<use href="#k2" x="355.5" y="195.6"/>
<use href="#k2" x="356.1" y="195.5"/>
<use href="#k2" x="356.6" y="195.5"/>
<use href="#k2" x="357.1" y="195.5"/>
<use href="#k2" x="357.6" y="195.5"/>
<use href="#k2" x="358.1" y="195.5"/>
<use href="#k2" x="358.6" y="195.5"/>
<use href="#k2" x="359.2" y="195.5"/>
<use href="#k2" x="359.7" y="195.5"/>
<use href="#k2" x="360.2" y="195.5"/>
<use href="#k2" x="360.7" y="195.5"/>
<use href="#k2" x="361.2" y="195.5"/>
<use href="#k2" x="361.8" y="195.5"/>
<use href="#k2" x="362.3" y="195.5"/>
<use href="#k2" x="362.8" y="195.5"/>
<use href="#k2" x="363.3" y="195.5"/>
<use href="#k2" x="363.8" y="195.5"/>
<use href="#k2" x="364.4" y="195.5"/>
<use href="#k2" x="364.9" y="195.5"/>
<use href="#k2" x="365.4" y="195.5"/>
<use href="#k2" x="365.9" y="195.5"/>
<use href="#k2" x="366.4" y="195.5"/>
<use href="#k2" x="367.0" y="195.5"/>
<use href="#k2" x="367.5" y="195.5"/>
<use href="#k2" x="368.0" y="195.5"/>
<use href="#k2" x="368.5" y="195.5"/>
<use href="#k2" x="369.0" y="195.5"/>
<use href="#k2" x="369.5" y="195.5"/>
<use href="#k2" x="370.1" y="195.5"/>
<use href="#k2" x="370.6" y="195.5"/>
<use href="#k2" x="371.1" y="195.5"/>
<use href="#k2" x="371.6" y="195.5"/>
<use href="#k2" x="372.1" y="195.5"/>
<use href="#k2" x="372.7" y="195.5"/>
<use href="#k2" x="373.2" y="195.5"/>
<use href="#k2" x="373.7" y="195.5"/>
<use href="#k2" x="374.2" y="195.5"/>
<use href="#k2" x="374.7" y="195.5"/>
<use href="#k2" x="375.3" y="195.5"/>
<use href="#k2" x="375.8" y="195.5"/>
<use href="#k2" x="376.3" y="195.5"/>
<use href="#k2" x="376.8" y="195.5"/>
<use href="#k2" x="377.3" y="195.5"/>
<use href="#k2" x="377.9" y="195.5"/>
<use href="#k2" x="378.4" y="195.5"/>
<use href="#k2" x="378.9" y="195.5"/>
<use href="#k2" x="379.4" y="195.5"/>
<use href="#k2" x="379.9" y="195.5"/>
<use href="#k2" x="380.4" y="195.5"/>
<use href="#k2" x="381.0" y="195.5"/>
<use href="#k2" x="381.5" y="195.5"/>
<use href="#k2" x="382.0" y="195.5"/>
<use href="#k2" x="382.5" y="195.5"/>
<use href="#k2" x="383.0" y="195.5"/>
<use href="#k2" x="383.6" y="195.5"/>
<use href="#k2" x="384.1" y="195.5"/>
<use href="#k2" x="384.6" y="195.5"/>
<use href="#k2" x="385.1" y="195.5"/>
<use href="#k2" x="385.6" y="195.5"/>
<use href="#k2" x="386.2" y="195.5"/>
<use href="#k2" x="386.7" y="195.5"/>
<use href="#k2" x="387.2" y="195.5"/>
<use href="#k2" x="387.7" y="195.5"/>
<use href="#k2" x="388.2" y="195.5"/>
<use href="#k2" x="388.8" y="195.5"/>
<use href="#k2" x="389.3" y="195.5"/>
<use href="#k2" x="389.8" y="195.5"/>
<use href="#k2" x="390.3" y="195.5"/>
<use href="#k2" x="390.8" y="195.5"/>
<use href="#k2" x="391.3" y="195.5"/>
<use href="#k2" x="391.9" y="195.5"/>
<use href="#k2" x="392.4" y="195.5"/>
<use href="#k2" x="392.9" y="195.5"/>
<use href="#k2" x="393.4" y="195.5"/>
<use href="#k2" x="393.9" y="195.5"/>
<use href="#k2" x="394.5" y="195.5"/>
<use href="#k2" x="395.0" y="195.5"/>
<use href="#k2" x="395.5" y="195.5"/>
<use href="#k2" x="396.0" y="195.5"/>
<polyline points="210.7,212.6 211.6,214.2 212.4,215.9 213.3,217.7 214.2,219.7 215.0,221.8 215.9,224.0 216.8,226.4 217.6,228.9 218.5,231.6 219.3,234.5 220.2,237.5 221.1,240.6 221.9,244.0 222.8,247.5 223.7,251.1 224.5,255.0 225.4,259.0 226.3,263.1 227.1,267.5 228.0,272.0 228.9,276.7 229.7,281.5 230.6,286.5 231.5,291.6 232.3,296.9 233.2,302.2 234.1,307.7 234.9,313.3 235.8,319.0 236.7,324.8 237.5,330.7 238.4,336.6 239.2,342.5 240.1,348.5 241.0,354.4 241.8,360.4 242.7,366.3 243.6,372.2 244.4,378.0 245.3,383.7 246.2,389.3 247.0,394.7 247.9,400.0 248.8,405.1 249.6,410.1 250.5,414.8 251.4,419.3 252.2,423.5 253.1,427.5 253.9,431.1 254.8,434.5 255.7,437.6 256.5,440.3 257.4,442.7 258.3,444.8 259.1,446.5 260.0,447.8 260.9,448.7 261.7,449.3" fill="none" stroke="#fff" stroke-opacity="0.15" stroke-width="1.4"/>
<polyline points="262.1,449.3 262.9,448.7 263.8,447.8 264.7,446.5 265.5,444.8 266.4,442.7 267.3,440.3 268.1,437.6 269.0,434.5 269.8,431.1 270.7,427.5 271.6,423.5 272.4,419.3 273.3,414.8 274.2,410.1 275.0,405.1 275.9,400.0 276.8,394.7 277.6,389.3 278.5,383.7 279.4,378.0 280.2,372.2 281.1,366.3 282.0,360.4 282.8,354.4 283.7,348.5 284.6,342.5 285.4,336.6 286.3,330.7 287.1,324.8 288.0,319.0 288.9,313.3 289.7,307.7 290.6,302.2 291.5,296.9 292.3,291.6 293.2,286.5 294.1,281.5 294.9,276.7 295.8,272.0 296.7,267.5 297.5,263.1 298.4,259.0 299.3,255.0 300.1,251.1 301.0,247.5 301.9,244.0 302.7,240.6 303.6,237.5 304.4,234.5 305.3,231.6 306.2,228.9 307.0,226.4 307.9,224.0 308.8,221.8 309.6,219.7 310.5,217.7 311.4,215.9 312.2,214.2 313.1,212.6" fill="none" stroke="#fff" stroke-opacity="0.10" stroke-width="1.4"/>
<use href="#b2" x="90.5" y="195.0"/>
<use href="#b2" x="91.0" y="195.0"/>
<use href="#b2" x="91.5" y="195.0"/>
<use href="#b2" x="92.1" y="195.0"/>
<use href="#b2" x="92.6" y="195.0"/>
<use href="#b2" x="93.1" y="195.0"/>
<use href="#b2" x="93.6" y="195.0"/>
<use href="#b2" x="94.1" y="195.0"/>
<use href="#b2" x="94.7" y="195.0"/>
<use href="#b2" x="95.2" y="195.0"/>
<use href="#b2" x="95.7" y="195.0"/>
<use href="#b2" x="96.2" y="195.0"/>
<use href="#b2" x="96.7" y="195.0"/>
<use href="#b2" x="97.2" y="194.9"/>
<use href="#b2" x="97.8" y="194.9"/>
<use href="#b2" x="98.3" y="194.9"/>
<use href="#b2" x="98.8" y="194.9"/>
<use href="#b2" x="99.3" y="194.9"/>
<use href="#b2" x="99.8" y="194.9"/>
<use href="#b2" x="100.4" y="194.9"/>
<use href="#b2" x="100.9" y="194.9"/>
<use href="#b2" x="101.4" y="194.9"/>
<use href="#b2" x="101.9" y="194.9"/>
<use href="#b2" x="102.4" y="194.9"/>
<use href="#b2" x="103.0" y="194.9"/>
<use href="#b2" x="103.5" y="194.9"/>
<use href="#b2" x="104.0" y="194.9"/>
<use href="#b2" x="104.5" y="194.9"/>
<use href="#b2" x="105.0" y="194.9"/>
<use href="#b2" x="105.6" y="194.9"/>
<use href="#b2" x="106.1" y="194.9"/>
<use href="#b2" x="106.6" y="194.9"/>
<use href="#b2" x="107.1" y="194.9"/>
<use href="#b2" x="107.6" y="194.9"/>
<use href="#b2" x="108.1" y="194.9"/>
<use href="#b2" x="108.7" y="194.9"/>
<use href="#b2" x="109.2" y="194.9"/>
<use href="#b2" x="109.7" y="194.9"/>
<use href="#b2" x="110.2" y="194.9"/>
<use href="#b2" x="110.7" y="194.8"/>
<use href="#b2" x="111.3" y="194.8"/>
<use href="#b2" x="111.8" y="194.8"/>
<use href="#b2" x="112.3" y="194.8"/>
<use href="#b2" x="112.8" y="194.8"/>
<use href="#b2" x="113.3" y="194.8"/>
<use href="#b2" x="113.9" y="194.8"/>
<use href="#b2" x="114.4" y="194.8"/>
<use href="#b2" x="114.9" y="194.8"/>
<use href="#b2" x="115.4" y="194.8"/>
<use href="#b2" x="115.9" y="194.8"/>
<use href="#b2" x="116.4" y="194.8"/>
<use href="#b2" x="117.0" y="194.8"/>
<use href="#b2" x="117.5" y="194.8"/>
<use href="#b2" x="118.0" y="194.8"/>
<use href="#b2" x="118.5" y="194.8"/>
<use href="#b2" x="119.0" y="194.8"/>
<use href="#b2" x="119.6" y="194.8"/>
<use href="#b2" x="120.1" y="194.8"/>
<use href="#b2" x="120.6" y="194.8"/>
<use href="#b2" x="121.1" y="194.7"/>
<use href="#b2" x="121.6" y="194.7"/>
<use href="#b2" x="122.2" y="194.7"/>
<use href="#b2" x="122.7" y="194.7"/>
<use href="#b2" x="123.2" y="194.7"/>
<use href="#b2" x="123.7" y="194.7"/>
<use href="#b2" x="124.2" y="194.7"/>
<use href="#b2" x="124.8" y="194.7"/>
<use href="#b2" x="125.3" y="194.7"/>
<use href="#b2" x="125.8" y="194.7"/>
<use href="#b2" x="126.3" y="194.7"/>
<use href="#b2" x="126.8" y="194.7"/>
<use href="#b2" x="127.3" y="194.7"/>
<use href="#b2" x="127.9" y="194.7"/>
<use href="#b2" x="128.4" y="194.7"/>
<use href="#b2" x="128.9" y="194.7"/>
<use href="#b2" x="129.4" y="194.7"/>
<use href="#b2" x="129.9" y="194.6"/>
<use href="#b2" x="130.5" y="194.6"/>
<use href="#b2" x="131.0" y="194.6"/>
<use href="#b2" x="131.5" y="194.6"/>
<use href="#b2" x="132.0" y="194.6"/>
<use href="#b2" x="132.5" y="194.6"/>
<use href="#b2" x="133.1" y="194.6"/>
<use href="#b2" x="133.6" y="194.6"/>
<use href="#b2" x="134.1" y="194.6"/>
<use href="#b2" x="134.6" y="194.6"/>
<use href="#b2" x="135.1" y="194.6"/>
<use href="#b2" x="135.7" y="194.6"/>
<use href="#b2" x="136.2" y="194.6"/>
<use href="#b2" x="136.7" y="194.6"/>
<use href="#b2" x="137.2" y="194.5"/>
<use href="#b2" x="137.7" y="194.5"/>
<use href="#b2" x="138.2" y="194.5"/>
<use href="#b2" x="138.8" y="194.5"/>
<use href="#b2" x="139.3" y="194.5"/>
<use href="#b2" x="139.8" y="194.5"/>
<use href="#b2" x="140.3" y="194.5"/>
<use href="#b2" x="140.8" y="194.5"/>
<use href="#b2" x="141.4" y="194.5"/>
<use href="#b2" x="141.9" y="194.5"/>
<use href="#b2" x="142.4" y="194.5"/>
<use href="#b2" x="142.9" y="194.5"/>
<use href="#b2" x="143.4" y="194.4"/>
<use href="#b2" x="144.0" y="194.4"/>
<use href="#b2" x="144.5" y="194.4"/>
<use href="#b2" x="145.0" y="194.4"/>
<use href="#b2" x="145.5" y="194.4"/>
<use href="#b2" x="146.0" y="194.4"/>
<use href="#b2" x="146.6" y="194.4"/>
<use href="#b2" x="147.1" y="194.4"/>
<use href="#b2" x="147.6" y="194.4"/>
<use href="#b2" x="148.1" y="194.4"/>
<use href="#b2" x="148.6" y="194.3"/>
<use href="#b2" x="149.1" y="194.3"/>
<use href="#b2" x="149.7" y="194.3"/>
<use href="#b2" x="150.2" y="194.3"/>
<use href="#b2" x="150.7" y="194.3"/>
<use href="#b2" x="151.2" y="194.3"/>
<use href="#b2" x="151.7" y="194.3"/>
<use href="#b2" x="152.3" y="194.3"/>
<use href="#b2" x="152.8" y="194.3"/>
<use href="#b2" x="153.3" y="194.2"/>
<use href="#b2" x="153.8" y="194.2"/>
<use href="#b2" x="154.3" y="194.2"/>
<use href="#b2" x="154.9" y="194.2"/>
<use href="#b2" x="155.4" y="194.2"/>
<use href="#b2" x="155.9" y="194.2"/>
<use href="#b2" x="156.4" y="194.2"/>
<use href="#b2" x="156.9" y="194.2"/>
<use href="#b2" x="157.5" y="194.2"/>
<use href="#b2" x="158.0" y="194.1"/>
<use href="#b2" x="158.5" y="194.1"/>
<use href="#b2" x="159.0" y="194.1"/>
<use href="#b2" x="159.5" y="194.1"/>
<use href="#b2" x="160.0" y="194.1"/>
<use href="#b2" x="160.6" y="194.1"/>
<use href="#b2" x="161.1" y="194.1"/>
<use href="#b2" x="161.6" y="194.0"/>
<use href="#b2" x="162.1" y="194.0"/>
<use href="#b2" x="162.6" y="194.0"/>
<use href="#b2" x="163.2" y="194.0"/>
<use href="#b2" x="163.7" y="194.0"/>
<use href="#b2" x="164.2" y="194.0"/>
<use href="#b2" x="164.7" y="194.0"/>
<use href="#b2" x="165.2" y="193.9"/>
<use href="#b2" x="165.8" y="193.9"/>
<use href="#b2" x="166.3" y="193.9"/>
<use href="#b2" x="166.8" y="193.9"/>
<use href="#b2" x="167.3" y="193.9"/>
<use href="#b2" x="167.8" y="193.9"/>
<use href="#b2" x="168.3" y="193.8"/>
<use href="#b2" x="168.9" y="193.8"/>
<use href="#b2" x="169.4" y="193.8"/>
<use href="#b2" x="169.9" y="193.8"/>
<use href="#b2" x="170.4" y="193.8"/>
<use href="#b2" x="170.9" y="193.8"/>
<use href="#b2" x="171.5" y="193.8"/>
<use href="#b2" x="172.0" y="193.7"/>
<use href="#b2" x="172.5" y="193.7"/>
<use href="#b2" x="173.0" y="193.7"/>
<use href="#b2" x="173.5" y="193.7"/>
<use href="#b2" x="174.1" y="193.7"/>
<use href="#b2" x="174.6" y="193.7"/>
<use href="#b2" x="175.1" y="193.7"/>
<use href="#b2" x="175.6" y="193.6"/>
<use href="#b2" x="176.1" y="193.6"/>
<use href="#b2" x="176.7" y="193.6"/>
<use href="#b2" x="177.2" y="193.6"/>
<use href="#b2" x="177.7" y="193.6"/>
<use href="#b2" x="178.2" y="193.6"/>
<use href="#b2" x="178.7" y="193.6"/>
<use href="#b2" x="179.2" y="193.6"/>
<use href="#b2" x="179.8" y="193.6"/>
<use href="#b2" x="180.3" y="193.6"/>
<use href="#b2" x="180.8" y="193.5"/>
<use href="#b2" x="181.3" y="193.5"/>
<use href="#b2" x="181.8" y="193.5"/>
<use href="#b2" x="182.4" y="193.5"/>
<use href="#b2" x="182.9" y="193.5"/>
<use href="#b2" x="183.4" y="193.5"/>
<use href="#b2" x="183.9" y="193.5"/>
<use href="#b2" x="184.4" y="193.6"/>
<use href="#b2" x="185.0" y="193.6"/>
<use href="#b2" x="185.5" y="193.6"/>
<use href="#b2" x="186.0" y="193.6"/>
<use href="#b2" x="186.5" y="193.6"/>
<use href="#b2" x="187.0" y="193.6"/>
<use href="#b2" x="187.6" y="193.6"/>
<use href="#b2" x="188.1" y="193.7"/>
<use href="#b2" x="188.6" y="193.7"/>
<use href="#b2" x="189.1" y="193.7"/>
<use href="#b2" x="189.6" y="193.8"/>
<use href="#b2" x="190.1" y="193.8"/>
<use href="#b2" x="190.7" y="193.9"/>
<use href="#b2" x="191.2" y="193.9"/>
<use href="#b2" x="191.7" y="194.0"/>
<use href="#b2" x="192.2" y="194.1"/>
<use href="#b2" x="192.7" y="194.1"/>
<use href="#b2" x="193.3" y="194.2"/>
<use href="#b2" x="193.8" y="194.3"/>
<use href="#b2" x="194.3" y="194.4"/>
<use href="#b2" x="194.8" y="194.5"/>
<use href="#b2" x="195.3" y="194.6"/>
<use href="#b2" x="195.9" y="194.8"/>
<use href="#b2" x="196.4" y="194.9"/>
<use href="#b2" x="196.9" y="195.0"/>
<use href="#b2" x="197.4" y="195.2"/>
<use href="#b2" x="197.9" y="195.4"/>
<use href="#b2" x="198.5" y="195.6"/>
<use href="#b2" x="199.0" y="195.8"/>
<use href="#b2" x="199.5" y="196.0"/>
<use href="#b2" x="200.0" y="196.2"/>
<use href="#b2" x="200.5" y="196.4"/>
<use href="#b2" x="201.0" y="196.7"/>
<use href="#b2" x="201.6" y="197.0"/>
<use href="#b2" x="202.1" y="197.3"/>
<use href="#b2" x="202.6" y="197.6"/>
<use href="#b2" x="203.1" y="197.9"/>
<use href="#b2" x="203.6" y="198.3"/>
<use href="#b2" x="204.2" y="198.6"/>
<use href="#b2" x="204.7" y="199.0"/>
<use href="#b2" x="205.2" y="199.4"/>
<use href="#b2" x="205.5" y="199.7"/>
<use href="#b2" x="205.9" y="200.0"/>
<use href="#b2" x="206.2" y="200.4"/>
<use href="#b2" x="206.6" y="200.7"/>
<use href="#b2" x="206.9" y="201.0"/>
<use href="#b2" x="207.3" y="201.4"/>
<use href="#b2" x="207.6" y="201.7"/>
<use href="#b2" x="208.0" y="202.1"/>
<use href="#b2" x="208.3" y="202.5"/>
<use href="#b2" x="208.7" y="202.9"/>
<use href="#b2" x="209.0" y="203.3"/>
<use href="#b2" x="209.4" y="203.8"/>
<use href="#b2" x="209.7" y="204.2"/>
<use href="#b2" x="210.0" y="204.7"/>
<use href="#b2" x="210.4" y="205.1"/>
<use href="#b2" x="210.7" y="205.6"/>
<use href="#b2" x="211.1" y="206.1"/>
<use href="#b2" x="211.4" y="206.7"/>
<use href="#b2" x="211.8" y="207.2"/>
<use href="#b2" x="212.1" y="207.8"/>
<use href="#b2" x="212.5" y="208.3"/>
<use href="#b2" x="212.8" y="208.9"/>
<use href="#b2" x="213.2" y="209.5"/>
<use href="#b2" x="213.5" y="210.2"/>
<use href="#b2" x="213.8" y="210.8"/>
<use href="#b2" x="214.2" y="211.5"/>
<use href="#b2" x="214.5" y="212.1"/>
<use href="#b2" x="214.9" y="212.8"/>
<use href="#b2" x="215.2" y="213.6"/>
<use href="#b2" x="215.6" y="214.3"/>
<use href="#b2" x="215.9" y="215.1"/>
<use href="#b2" x="216.3" y="215.8"/>
<use href="#b2" x="216.6" y="216.6"/>
<use href="#b2" x="217.0" y="217.5"/>
<use href="#b2" x="217.1" y="217.9"/>
<use href="#b2" x="217.3" y="218.3"/>
<use href="#b2" x="217.5" y="218.7"/>
<use href="#b2" x="217.7" y="219.2"/>
<use href="#b2" x="217.8" y="219.6"/>
<use href="#b2" x="218.0" y="220.0"/>
<use href="#b2" x="218.2" y="220.5"/>
<use href="#b2" x="218.3" y="221.0"/>
<use href="#b2" x="218.5" y="221.4"/>
<use href="#b2" x="218.7" y="221.9"/>
<use href="#b2" x="218.9" y="222.3"/>
<use href="#b2" x="219.0" y="222.8"/>
<use href="#b2" x="219.2" y="223.3"/>
<use href="#b2" x="219.4" y="223.8"/>
<use href="#b2" x="219.6" y="224.3"/>
<use href="#b2" x="219.7" y="224.8"/>
<use href="#b2" x="219.9" y="225.3"/>
<use href="#b2" x="220.1" y="225.8"/>
<use href="#b2" x="220.2" y="226.3"/>
<use href="#b2" x="220.4" y="226.8"/>
<use href="#b2" x="220.6" y="227.4"/>
<use href="#b2" x="220.8" y="227.9"/>
<use href="#b2" x="220.9" y="228.4"/>
<use href="#b2" x="221.1" y="229.0"/>
<use href="#b2" x="221.3" y="229.5"/>
<use href="#b2" x="221.5" y="230.1"/>
<use href="#b2" x="221.6" y="230.7"/>
<use href="#b2" x="221.8" y="231.2"/>
<use href="#b2" x="222.0" y="231.8"/>
<use href="#b2" x="222.2" y="232.4"/>
<use href="#b2" x="222.3" y="233.0"/>
<use href="#b2" x="222.5" y="233.6"/>
<use href="#b2" x="222.7" y="234.2"/>
<use href="#b2" x="222.8" y="234.8"/>
<use href="#b2" x="223.0" y="235.4"/>
<use href="#b2" x="223.2" y="236.0"/>
<use href="#b2" x="223.4" y="236.6"/>
<use href="#b2" x="223.5" y="237.2"/>
<use href="#b2" x="223.7" y="237.8"/>
<use href="#b2" x="223.9" y="238.5"/>
<use href="#b2" x="224.1" y="239.1"/>
<use href="#b2" x="224.2" y="239.8"/>
<use href="#b2" x="224.4" y="240.4"/>
<use href="#b2" x="224.6" y="241.1"/>
<use href="#b2" x="224.7" y="241.8"/>
<use href="#b2" x="224.9" y="242.4"/>
<use href="#b2" x="225.1" y="243.1"/>
<use href="#b2" x="225.3" y="243.8"/>
<use href="#b2" x="225.4" y="244.5"/>
<use href="#b2" x="225.6" y="245.2"/>
<use href="#b2" x="225.8" y="245.9"/>
<use href="#b2" x="226.0" y="246.6"/>
<use href="#b2" x="226.1" y="247.3"/>
<use href="#b2" x="226.3" y="248.0"/>
<use href="#b2" x="226.5" y="248.7"/>
<use href="#b2" x="226.7" y="249.4"/>
<use href="#b2" x="226.8" y="250.2"/>
<use href="#b2" x="227.0" y="250.9"/>
<use href="#b2" x="227.2" y="251.6"/>
<use href="#b2" x="227.3" y="252.4"/>
<use href="#b2" x="227.5" y="253.1"/>
<use href="#b2" x="227.7" y="253.9"/>
<use href="#b2" x="227.9" y="254.6"/>
<use href="#b2" x="228.0" y="255.4"/>
<use href="#b2" x="228.2" y="256.2"/>
<use href="#b2" x="228.4" y="257.0"/>
<use href="#b2" x="228.6" y="257.7"/>
<use href="#b2" x="228.7" y="258.5"/>
<use href="#b2" x="228.9" y="259.3"/>
<use href="#b2" x="229.1" y="260.1"/>
<use href="#b2" x="229.2" y="260.9"/>
<use href="#b2" x="229.4" y="261.7"/>
<use href="#b2" x="229.6" y="262.5"/>
<use href="#b2" x="229.8" y="263.3"/>
<use href="#b2" x="229.9" y="264.1"/>
<use href="#b2" x="230.1" y="264.9"/>
<use href="#b2" x="230.3" y="265.8"/>
<use href="#b2" x="230.5" y="266.6"/>
<use href="#b2" x="230.6" y="267.4"/>
<use href="#b2" x="230.8" y="268.3"/>
<use href="#b2" x="231.0" y="269.1"/>
<use href="#b2" x="231.1" y="269.9"/>
<use href="#b2" x="231.3" y="270.8"/>
<use href="#b2" x="231.5" y="271.6"/>
<use href="#b2" x="231.7" y="272.5"/>
<use href="#b2" x="231.8" y="273.3"/>
<use href="#b2" x="232.0" y="274.2"/>
<use href="#b2" x="232.2" y="275.1"/>
<use href="#b2" x="232.4" y="275.9"/>
<use href="#b2" x="232.5" y="276.8"/>
<use href="#b2" x="232.7" y="277.6"/>
<use href="#b2" x="232.9" y="278.5"/>
<use href="#b2" x="233.1" y="279.4"/>
<use href="#b2" x="233.2" y="280.3"/>
<use href="#b2" x="233.4" y="281.1"/>
<use href="#b2" x="233.6" y="282.0"/>
<use href="#b2" x="233.7" y="282.9"/>
<use href="#b2" x="233.9" y="283.8"/>
<use href="#b2" x="234.1" y="284.7"/>
<use href="#b2" x="234.3" y="285.5"/>
<use href="#b2" x="234.4" y="286.4"/>
<use href="#b2" x="234.6" y="287.3"/>
<use href="#b2" x="234.8" y="288.2"/>
<use href="#b2" x="235.0" y="289.1"/>
<use href="#b2" x="235.1" y="290.0"/>
<use href="#b2" x="235.3" y="290.8"/>
<use href="#b2" x="235.5" y="291.7"/>
<use href="#b2" x="235.6" y="292.6"/>
<use href="#b2" x="235.8" y="293.5"/>
<use href="#b2" x="236.0" y="294.4"/>
<use href="#b2" x="236.2" y="295.3"/>
<use href="#b2" x="236.3" y="296.1"/>
<use href="#b2" x="236.5" y="297.0"/>
<use href="#b2" x="236.7" y="297.9"/>
<use href="#b2" x="236.9" y="298.8"/>
<use href="#b2" x="237.0" y="299.6"/>
<use href="#b2" x="237.2" y="300.5"/>
<use href="#b2" x="237.4" y="301.4"/>
<use href="#b2" x="237.6" y="302.2"/>
<use href="#b2" x="237.7" y="303.1"/>
<use href="#b2" x="237.9" y="304.0"/>
<use href="#b2" x="238.1" y="304.8"/>
<use href="#b2" x="238.2" y="305.7"/>
<use href="#b2" x="238.4" y="306.5"/>
<use href="#b2" x="238.6" y="307.4"/>
<use href="#b2" x="238.8" y="308.2"/>
<use href="#b2" x="238.9" y="309.0"/>
<use href="#b2" x="239.1" y="309.8"/>
<use href="#b2" x="239.3" y="310.7"/>
<use href="#b2" x="239.5" y="311.5"/>
<use href="#b2" x="239.6" y="312.3"/>
<use href="#b2" x="239.8" y="313.1"/>
<use href="#b2" x="240.0" y="313.9"/>
<use href="#b2" x="240.1" y="314.6"/>
<use href="#b2" x="240.3" y="315.4"/>
<use href="#b2" x="240.5" y="316.2"/>
<use href="#b2" x="240.7" y="316.9"/>
<use href="#b2" x="240.8" y="317.7"/>
<use href="#b2" x="241.0" y="318.4"/>
<use href="#b2" x="241.2" y="319.2"/>
<use href="#b2" x="241.4" y="319.9"/>
<use href="#b2" x="241.5" y="320.6"/>
<use href="#b2" x="241.7" y="321.3"/>
<use href="#b2" x="241.9" y="321.9"/>
<use href="#b2" x="242.0" y="322.6"/>
<use href="#b2" x="242.2" y="323.3"/>
<use href="#b2" x="242.4" y="323.9"/>
<use href="#b2" x="242.6" y="324.5"/>
<use href="#b2" x="242.7" y="325.1"/>
<use href="#b2" x="242.9" y="325.7"/>
<use href="#b2" x="243.1" y="326.3"/>
<use href="#b2" x="243.3" y="326.8"/>
<use href="#b2" x="243.4" y="327.4"/>
<use href="#b2" x="243.6" y="327.9"/>
<use href="#b2" x="243.8" y="328.4"/>
<use href="#b2" x="244.0" y="328.9"/>
<use href="#b2" x="244.1" y="329.3"/>
<use href="#b2" x="244.3" y="329.8"/>
<use href="#b2" x="244.6" y="330.6"/>
<use href="#b2" x="245.0" y="331.3"/>
<use href="#b2" x="245.3" y="331.9"/>
<use href="#b2" x="245.7" y="332.4"/>
<use href="#b2" x="246.0" y="332.7"/>
<use href="#b2" x="246.5" y="333.0"/>
<use href="#b2" x="247.1" y="333.0"/>
<use href="#b2" x="247.6" y="332.5"/>
<use href="#b2" x="247.9" y="332.0"/>
<use href="#b2" x="248.3" y="331.2"/>
<use href="#b2" x="248.4" y="330.8"/>
<use href="#b2" x="248.6" y="330.3"/>
<use href="#b2" x="248.8" y="329.7"/>
<use href="#b2" x="249.0" y="329.0"/>
<use href="#b2" x="249.1" y="328.3"/>
<use href="#b2" x="249.3" y="327.5"/>
<use href="#b2" x="249.5" y="326.7"/>
<use href="#b2" x="249.7" y="325.8"/>
<use href="#b2" x="249.8" y="324.7"/>
<use href="#b2" x="250.0" y="323.6"/>
<use href="#b2" x="250.2" y="322.4"/>
<use href="#b2" x="250.4" y="321.1"/>
<use href="#b2" x="250.5" y="319.7"/>
<use href="#b2" x="250.7" y="318.3"/>
<use href="#b2" x="250.9" y="316.6"/>
<use href="#b2" x="251.0" y="314.9"/>
<use href="#b2" x="251.2" y="313.1"/>
<use href="#b2" x="251.4" y="311.1"/>
<use href="#b2" x="251.6" y="309.0"/>
<use href="#b2" x="251.7" y="306.7"/>
<use href="#b2" x="251.9" y="304.3"/>
<use href="#b2" x="252.1" y="301.8"/>
<use href="#b2" x="252.3" y="299.0"/>
<use href="#b2" x="252.4" y="296.1"/>
<use href="#b2" x="252.6" y="293.0"/>
<use href="#b2" x="252.8" y="289.7"/>
<use href="#b2" x="252.9" y="286.1"/>
<use href="#b2" x="253.1" y="282.4"/>
<use href="#b2" x="253.3" y="278.4"/>
<use href="#b2" x="253.5" y="274.1"/>
<use href="#b2" x="253.6" y="269.6"/>
<use href="#b2" x="253.8" y="264.7"/>
<use href="#b2" x="254.0" y="259.5"/>
<use href="#b2" x="254.2" y="254.0"/>
<use href="#b2" x="254.3" y="248.1"/>
<use href="#b2" x="254.5" y="241.8"/>
<use href="#b2" x="254.7" y="235.1"/>
<use href="#b2" x="254.8" y="227.9"/>
<use href="#b2" x="255.0" y="220.3"/>
<use href="#b2" x="255.2" y="212.1"/>
<use href="#b2" x="255.4" y="203.2"/>
<use href="#b2" x="255.5" y="193.8"/>
<use href="#b2" x="271.5" y="193.8"/>
<use href="#b2" x="271.6" y="203.2"/>
<use href="#b2" x="271.8" y="212.1"/>
<use href="#b2" x="272.0" y="220.3"/>
<use href="#b2" x="272.1" y="227.9"/>
<use href="#b2" x="272.3" y="235.1"/>
<use href="#b2" x="272.5" y="241.8"/>
<use href="#b2" x="272.7" y="248.1"/>
<use href="#b2" x="272.8" y="254.0"/>
<use href="#b2" x="273.0" y="259.5"/>
<use href="#b2" x="273.2" y="264.7"/>
<use href="#b2" x="273.4" y="269.6"/>
<use href="#b2" x="273.5" y="274.1"/>
<use href="#b2" x="273.7" y="278.4"/>
<use href="#b2" x="273.9" y="282.4"/>
<use href="#b2" x="274.1" y="286.1"/>
<use href="#b2" x="274.2" y="289.7"/>
<use href="#b2" x="274.4" y="293.0"/>
<use href="#b2" x="274.6" y="296.1"/>
<use href="#b2" x="274.7" y="299.0"/>
<use href="#b2" x="274.9" y="301.8"/>
<use href="#b2" x="275.1" y="304.3"/>
<use href="#b2" x="275.3" y="306.7"/>
<use href="#b2" x="275.4" y="309.0"/>
<use href="#b2" x="275.6" y="311.1"/>
<use href="#b2" x="275.8" y="313.1"/>
<use href="#b2" x="276.0" y="314.9"/>
<use href="#b2" x="276.1" y="316.6"/>
<use href="#b2" x="276.3" y="318.3"/>
<use href="#b2" x="276.5" y="319.7"/>
<use href="#b2" x="276.6" y="321.1"/>
<use href="#b2" x="276.8" y="322.4"/>
<use href="#b2" x="277.0" y="323.6"/>
<use href="#b2" x="277.2" y="324.7"/>
<use href="#b2" x="277.3" y="325.8"/>
<use href="#b2" x="277.5" y="326.7"/>
<use href="#b2" x="277.7" y="327.5"/>
<use href="#b2" x="277.9" y="328.3"/>
<use href="#b2" x="278.0" y="329.0"/>
<use href="#b2" x="278.2" y="329.7"/>
<use href="#b2" x="278.4" y="330.3"/>
<use href="#b2" x="278.6" y="330.8"/>
<use href="#b2" x="278.7" y="331.2"/>
<use href="#b2" x="279.1" y="332.0"/>
<use href="#b2" x="279.4" y="332.5"/>
<use href="#b2" x="279.8" y="332.9"/>
<use href="#b2" x="280.3" y="333.0"/>
<use href="#b2" x="280.8" y="332.9"/>
<use href="#b2" x="281.1" y="332.6"/>
<use href="#b2" x="281.5" y="332.1"/>
<use href="#b2" x="281.8" y="331.6"/>
<use href="#b2" x="282.2" y="331.0"/>
<use href="#b2" x="282.5" y="330.2"/>
<use href="#b2" x="282.9" y="329.3"/>
<use href="#b2" x="283.0" y="328.9"/>
<use href="#b2" x="283.2" y="328.4"/>
<use href="#b2" x="283.4" y="327.9"/>
<use href="#b2" x="283.6" y="327.4"/>
<use href="#b2" x="283.7" y="326.8"/>
<use href="#b2" x="283.9" y="326.3"/>
<use href="#b2" x="284.1" y="325.7"/>
<use href="#b2" x="284.3" y="325.1"/>
<use href="#b2" x="284.4" y="324.5"/>
<use href="#b2" x="284.6" y="323.9"/>
<use href="#b2" x="284.8" y="323.3"/>
<use href="#b2" x="285.0" y="322.6"/>
<use href="#b2" x="285.1" y="321.9"/>
<use href="#b2" x="285.3" y="321.3"/>
<use href="#b2" x="285.5" y="320.6"/>
<use href="#b2" x="285.6" y="319.9"/>
<use href="#b2" x="285.8" y="319.2"/>
<use href="#b2" x="286.0" y="318.4"/>
<use href="#b2" x="286.2" y="317.7"/>
<use href="#b2" x="286.3" y="316.9"/>
<use href="#b2" x="286.5" y="316.2"/>
<use href="#b2" x="286.7" y="315.4"/>
<use href="#b2" x="286.9" y="314.6"/>
<use href="#b2" x="287.0" y="313.9"/>
<use href="#b2" x="287.2" y="313.1"/>
<use href="#b2" x="287.4" y="312.3"/>
<use href="#b2" x="287.5" y="311.5"/>
<use href="#b2" x="287.7" y="310.7"/>
<use href="#b2" x="287.9" y="309.8"/>
<use href="#b2" x="288.1" y="309.0"/>
<use href="#b2" x="288.2" y="308.2"/>
<use href="#b2" x="288.4" y="307.4"/>
<use href="#b2" x="288.6" y="306.5"/>
<use href="#b2" x="288.8" y="305.7"/>
<use href="#b2" x="288.9" y="304.8"/>
<use href="#b2" x="289.1" y="304.0"/>
<use href="#b2" x="289.3" y="303.1"/>
<use href="#b2" x="289.4" y="302.2"/>
<use href="#b2" x="289.6" y="301.4"/>
<use href="#b2" x="289.8" y="300.5"/>
<use href="#b2" x="290.0" y="299.6"/>
<use href="#b2" x="290.1" y="298.8"/>
<use href="#b2" x="290.3" y="297.9"/>
<use href="#b2" x="290.5" y="297.0"/>
<use href="#b2" x="290.7" y="296.1"/>
<use href="#b2" x="290.8" y="295.3"/>
<use href="#b2" x="291.0" y="294.4"/>
<use href="#b2" x="291.2" y="293.5"/>
<use href="#b2" x="291.4" y="292.6"/>
<use href="#b2" x="291.5" y="291.7"/>
<use href="#b2" x="291.7" y="290.8"/>
<use href="#b2" x="291.9" y="290.0"/>
<use href="#b2" x="292.0" y="289.1"/>
<use href="#b2" x="292.2" y="288.2"/>
<use href="#b2" x="292.4" y="287.3"/>
<use href="#b2" x="292.6" y="286.4"/>
<use href="#b2" x="292.7" y="285.5"/>
<use href="#b2" x="292.9" y="284.7"/>
<use href="#b2" x="293.1" y="283.8"/>
<use href="#b2" x="293.3" y="282.9"/>
<use href="#b2" x="293.4" y="282.0"/>
<use href="#b2" x="293.6" y="281.1"/>
<use href="#b2" x="293.8" y="280.3"/>
<use href="#b2" x="293.9" y="279.4"/>
<use href="#b2" x="294.1" y="278.5"/>
<use href="#b2" x="294.3" y="277.6"/>
<use href="#b2" x="294.5" y="276.8"/>
<use href="#b2" x="294.6" y="275.9"/>
<use href="#b2" x="294.8" y="275.1"/>
<use href="#b2" x="295.0" y="274.2"/>
<use href="#b2" x="295.2" y="273.3"/>
<use href="#b2" x="295.3" y="272.5"/>
<use href="#b2" x="295.5" y="271.6"/>
<use href="#b2" x="295.7" y="270.8"/>
<use href="#b2" x="295.9" y="269.9"/>
<use href="#b2" x="296.0" y="269.1"/>
<use href="#b2" x="296.2" y="268.3"/>
<use href="#b2" x="296.4" y="267.4"/>
<use href="#b2" x="296.5" y="266.6"/>
<use href="#b2" x="296.7" y="265.8"/>
<use href="#b2" x="296.9" y="264.9"/>
<use href="#b2" x="297.1" y="264.1"/>
<use href="#b2" x="297.2" y="263.3"/>
<use href="#b2" x="297.4" y="262.5"/>
<use href="#b2" x="297.6" y="261.7"/>
<use href="#b2" x="297.8" y="260.9"/>
<use href="#b2" x="297.9" y="260.1"/>
<use href="#b2" x="298.1" y="259.3"/>
<use href="#b2" x="298.3" y="258.5"/>
<use href="#b2" x="298.4" y="257.7"/>
<use href="#b2" x="298.6" y="257.0"/>
<use href="#b2" x="298.8" y="256.2"/>
<use href="#b2" x="299.0" y="255.4"/>
<use href="#b2" x="299.1" y="254.6"/>
<use href="#b2" x="299.3" y="253.9"/>
<use href="#b2" x="299.5" y="253.1"/>
<use href="#b2" x="299.7" y="252.4"/>
<use href="#b2" x="299.8" y="251.6"/>
<use href="#b2" x="300.0" y="250.9"/>
<use href="#b2" x="300.2" y="250.2"/>
<use href="#b2" x="300.3" y="249.4"/>
<use href="#b2" x="300.5" y="248.7"/>
<use href="#b2" x="300.7" y="248.0"/>
<use href="#b2" x="300.9" y="247.3"/>
<use href="#b2" x="301.0" y="246.6"/>
<use href="#b2" x="301.2" y="245.9"/>
<use href="#b2" x="301.4" y="245.2"/>
<use href="#b2" x="301.6" y="244.5"/>
<use href="#b2" x="301.7" y="243.8"/>
<use href="#b2" x="301.9" y="243.1"/>
<use href="#b2" x="302.1" y="242.4"/>
<use href="#b2" x="302.3" y="241.8"/>
<use href="#b2" x="302.4" y="241.1"/>
<use href="#b2" x="302.6" y="240.4"/>
<use href="#b2" x="302.8" y="239.8"/>
<use href="#b2" x="302.9" y="239.1"/>
<use href="#b2" x="303.1" y="238.5"/>
<use href="#b2" x="303.3" y="237.8"/>
<use href="#b2" x="303.5" y="237.2"/>
<use href="#b2" x="303.6" y="236.6"/>
<use href="#b2" x="303.8" y="236.0"/>
<use href="#b2" x="304.0" y="235.4"/>
<use href="#b2" x="304.2" y="234.8"/>
<use href="#b2" x="304.3" y="234.2"/>
<use href="#b2" x="304.5" y="233.6"/>
<use href="#b2" x="304.7" y="233.0"/>
<use href="#b2" x="304.8" y="232.4"/>
<use href="#b2" x="305.0" y="231.8"/>
<use href="#b2" x="305.2" y="231.2"/>
<use href="#b2" x="305.4" y="230.7"/>
<use href="#b2" x="305.5" y="230.1"/>
<use href="#b2" x="305.7" y="229.5"/>
<use href="#b2" x="305.9" y="229.0"/>
<use href="#b2" x="306.1" y="228.4"/>
<use href="#b2" x="306.2" y="227.9"/>
<use href="#b2" x="306.4" y="227.4"/>
<use href="#b2" x="306.6" y="226.8"/>
<use href="#b2" x="306.8" y="226.3"/>
<use href="#b2" x="306.9" y="225.8"/>
<use href="#b2" x="307.1" y="225.3"/>
<use href="#b2" x="307.3" y="224.8"/>
<use href="#b2" x="307.4" y="224.3"/>
<use href="#b2" x="307.6" y="223.8"/>
<use href="#b2" x="307.8" y="223.3"/>
<use href="#b2" x="308.0" y="222.8"/>
<use href="#b2" x="308.1" y="222.3"/>
<use href="#b2" x="308.3" y="221.9"/>
<use href="#b2" x="308.5" y="221.4"/>
<use href="#b2" x="308.7" y="221.0"/>
<use href="#b2" x="308.8" y="220.5"/>
<use href="#b2" x="309.0" y="220.0"/>
<use href="#b2" x="309.2" y="219.6"/>
<use href="#b2" x="309.3" y="219.2"/>
<use href="#b2" x="309.5" y="218.7"/>
<use href="#b2" x="309.7" y="218.3"/>
<use href="#b2" x="309.9" y="217.9"/>
<use href="#b2" x="310.0" y="217.5"/>
<use href="#b2" x="310.4" y="216.6"/>
<use href="#b2" x="310.7" y="215.8"/>
<use href="#b2" x="311.1" y="215.1"/>
<use href="#b2" x="311.4" y="214.3"/>
<use href="#b2" x="311.8" y="213.6"/>
<use href="#b2" x="312.1" y="212.8"/>
<use href="#b2" x="312.5" y="212.1"/>
<use href="#b2" x="312.8" y="211.5"/>
<use href="#b2" x="313.2" y="210.8"/>
<use href="#b2" x="313.5" y="210.2"/>
<use href="#b2" x="313.8" y="209.5"/>
<use href="#b2" x="314.2" y="208.9"/>
<use href="#b2" x="314.5" y="208.3"/>
<use href="#b2" x="314.9" y="207.8"/>
<use href="#b2" x="315.2" y="207.2"/>
<use href="#b2" x="315.6" y="206.7"/>
<use href="#b2" x="315.9" y="206.1"/>
<use href="#b2" x="316.3" y="205.6"/>
<use href="#b2" x="316.6" y="205.1"/>
<use href="#b2" x="317.0" y="204.7"/>
<use href="#b2" x="317.3" y="204.2"/>
<use href="#b2" x="317.6" y="203.8"/>
<use href="#b2" x="318.0" y="203.3"/>
<use href="#b2" x="318.3" y="202.9"/>
<use href="#b2" x="318.7" y="202.5"/>
<use href="#b2" x="319.0" y="202.1"/>
<use href="#b2" x="319.4" y="201.7"/>
<use href="#b2" x="319.7" y="201.4"/>
<use href="#b2" x="320.1" y="201.0"/>
<use href="#b2" x="320.4" y="200.7"/>
<use href="#b2" x="320.8" y="200.4"/>
<use href="#b2" x="321.1" y="200.0"/>
<use href="#b2" x="321.5" y="199.7"/>
<use href="#b2" x="321.8" y="199.4"/>
<use href="#b2" x="322.3" y="199.0"/>
<use href="#b2" x="322.8" y="198.6"/>
<use href="#b2" x="323.4" y="198.3"/>
<use href="#b2" x="323.9" y="197.9"/>
<use href="#b2" x="324.4" y="197.6"/>
<use href="#b2" x="324.9" y="197.3"/>
<use href="#b2" x="325.4" y="197.0"/>
<use href="#b2" x="326.0" y="196.7"/>
<use href="#b2" x="326.5" y="196.4"/>
<use href="#b2" x="327.0" y="196.2"/>
<use href="#b2" x="327.5" y="196.0"/>
<use href="#b2" x="328.0" y="195.8"/>
<use href="#b2" x="328.5" y="195.6"/>
<use href="#b2" x="329.1" y="195.4"/>
<use href="#b2" x="329.6" y="195.2"/>
<use href="#b2" x="330.1" y="195.0"/>
<use href="#b2" x="330.6" y="194.9"/>
<use href="#b2" x="331.1" y="194.8"/>
<use href="#b2" x="331.7" y="194.6"/>
<use href="#b2" x="332.2" y="194.5"/>
<use href="#b2" x="332.7" y="194.4"/>
<use href="#b2" x="333.2" y="194.3"/>
<use href="#b2" x="333.7" y="194.2"/>
<use href="#b2" x="334.3" y="194.1"/>
<use href="#b2" x="334.8" y="194.1"/>
<use href="#b2" x="335.3" y="194.0"/>
<use href="#b2" x="335.8" y="193.9"/>
<use href="#b2" x="336.3" y="193.9"/>
<use href="#b2" x="336.9" y="193.8"/>
<use href="#b2" x="337.4" y="193.8"/>
<use href="#b2" x="337.9" y="193.7"/>
<use href="#b2" x="338.4" y="193.7"/>
<use href="#b2" x="338.9" y="193.7"/>
<use href="#b2" x="339.4" y="193.6"/>
<use href="#b2" x="340.0" y="193.6"/>
<use href="#b2" x="340.5" y="193.6"/>
<use href="#b2" x="341.0" y="193.6"/>
<use href="#b2" x="341.5" y="193.6"/>
<use href="#b2" x="342.0" y="193.6"/>
<use href="#b2" x="342.6" y="193.6"/>
<use href="#b2" x="343.1" y="193.5"/>
<use href="#b2" x="343.6" y="193.5"/>
<use href="#b2" x="344.1" y="193.5"/>
<use href="#b2" x="344.6" y="193.5"/>
<use href="#b2" x="345.2" y="193.5"/>
<use href="#b2" x="345.7" y="193.5"/>
<use href="#b2" x="346.2" y="193.5"/>
<use href="#b2" x="346.7" y="193.6"/>
<use href="#b2" x="347.2" y="193.6"/>
<use href="#b2" x="347.8" y="193.6"/>
<use href="#b2" x="348.3" y="193.6"/>
<use href="#b2" x="348.8" y="193.6"/>
<use href="#b2" x="349.3" y="193.6"/>
<use href="#b2" x="349.8" y="193.6"/>
<use href="#b2" x="350.3" y="193.6"/>
<use href="#b2" x="350.9" y="193.6"/>
<use href="#b2" x="351.4" y="193.6"/>
<use href="#b2" x="351.9" y="193.7"/>
<use href="#b2" x="352.4" y="193.7"/>
<use href="#b2" x="352.9" y="193.7"/>
<use href="#b2" x="353.5" y="193.7"/>
<use href="#b2" x="354.0" y="193.7"/>
<use href="#b2" x="354.5" y="193.7"/>
<use href="#b2" x="355.0" y="193.7"/>
<use href="#b2" x="355.5" y="193.8"/>
<use href="#b2" x="356.1" y="193.8"/>
<use href="#b2" x="356.6" y="193.8"/>
<use href="#b2" x="357.1" y="193.8"/>
<use href="#b2" x="357.6" y="193.8"/>
<use href="#b2" x="358.1" y="193.8"/>
<use href="#b2" x="358.6" y="193.8"/>
<use href="#b2" x="359.2" y="193.9"/>
<use href="#b2" x="359.7" y="193.9"/>
<use href="#b2" x="360.2" y="193.9"/>
<use href="#b2" x="360.7" y="193.9"/>
<use href="#b2" x="361.2" y="193.9"/>
<use href="#b2" x="361.8" y="193.9"/>
<use href="#b2" x="362.3" y="194.0"/>
<use href="#b2" x="362.8" y="194.0"/>
<use href="#b2" x="363.3" y="194.0"/>
<use href="#b2" x="363.8" y="194.0"/>
<use href="#b2" x="364.4" y="194.0"/>
<use href="#b2" x="364.9" y="194.0"/>
<use href="#b2" x="365.4" y="194.0"/>
<use href="#b2" x="365.9" y="194.1"/>
<use href="#b2" x="366.4" y="194.1"/>
<use href="#b2" x="367.0" y="194.1"/>
<use href="#b2" x="367.5" y="194.1"/>
<use href="#b2" x="368.0" y="194.1"/>
<use href="#b2" x="368.5" y="194.1"/>
<use href="#b2" x="369.0" y="194.1"/>
<use href="#b2" x="369.5" y="194.2"/>
<use href="#b2" x="370.1" y="194.2"/>
<use href="#b2" x="370.6" y="194.2"/>
<use href="#b2" x="371.1" y="194.2"/>
<use href="#b2" x="371.6" y="194.2"/>
<use href="#b2" x="372.1" y="194.2"/>
<use href="#b2" x="372.7" y="194.2"/>
<use href="#b2" x="373.2" y="194.2"/>
<use href="#b2" x="373.7" y="194.2"/>
<use href="#b2" x="374.2" y="194.3"/>
<use href="#b2" x="374.7" y="194.3"/>
<use href="#b2" x="375.3" y="194.3"/>
<use href="#b2" x="375.8" y="194.3"/>
<use href="#b2" x="376.3" y="194.3"/>
<use href="#b2" x="376.8" y="194.3"/>
<use href="#b2" x="377.3" y="194.3"/>
<use href="#b2" x="377.9" y="194.3"/>
<use href="#b2" x="378.4" y="194.3"/>
<use href="#b2" x="378.9" y="194.4"/>
<use href="#b2" x="379.4" y="194.4"/>
<use href="#b2" x="379.9" y="194.4"/>
<use href="#b2" x="380.4" y="194.4"/>
<use href="#b2" x="381.0" y="194.4"/>
<use href="#b2" x="381.5" y="194.4"/>
<use href="#b2" x="382.0" y="194.4"/>
<use href="#b2" x="382.5" y="194.4"/>
<use href="#b2" x="383.0" y="194.4"/>
<use href="#b2" x="383.6" y="194.4"/>
<use href="#b2" x="384.1" y="194.5"/>
<use href="#b2" x="384.6" y="194.5"/>
<use href="#b2" x="385.1" y="194.5"/>
<use href="#b2" x="385.6" y="194.5"/>
<use href="#b2" x="386.2" y="194.5"/>
<use href="#b2" x="386.7" y="194.5"/>
<use href="#b2" x="387.2" y="194.5"/>
<use href="#b2" x="387.7" y="194.5"/>
<use href="#b2" x="388.2" y="194.5"/>
<use href="#b2" x="388.8" y="194.5"/>
<use href="#b2" x="389.3" y="194.5"/>
<use href="#b2" x="389.8" y="194.5"/>
<use href="#b2" x="390.3" y="194.6"/>
<use href="#b2" x="390.8" y="194.6"/>
<use href="#b2" x="391.3" y="194.6"/>
<use href="#b2" x="391.9" y="194.6"/>
<use href="#b2" x="392.4" y="194.6"/>
<use href="#b2" x="392.9" y="194.6"/>
<use href="#b2" x="393.4" y="194.6"/>
<use href="#b2" x="393.9" y="194.6"/>
<use href="#b2" x="394.5" y="194.6"/>
<use href="#b2" x="395.0" y="194.6"/>
<use href="#b2" x="395.5" y="194.6"/>
<use href="#b2" x="396.0" y="194.6"/>
<polyline points="210.8,206.9 211.7,208.3 212.5,209.8 213.4,211.5 214.3,213.2 215.1,215.1 216.0,217.0 216.9,219.2 217.7,221.4 218.6,223.8 219.4,226.3 220.3,229.0 221.2,231.8 222.0,234.8 222.9,237.8 223.8,241.1 224.6,244.5 225.5,248.0 226.4,251.6 227.2,255.4 228.1,259.3 229.0,263.3 229.8,267.4 230.7,271.6 231.6,275.9 232.4,280.3 233.3,284.7 234.2,289.1 235.0,293.5 235.9,297.9 236.8,302.2 237.6,306.5 238.5,310.7 239.3,314.6 240.2,318.4 241.1,321.9 241.9,325.1 242.8,327.9 243.7,330.2 244.5,331.9 245.4,332.9" fill="none" stroke="#fff" stroke-opacity="0.13" stroke-width="1.4"/>
<polyline points="278.8,332.9 279.7,331.9 280.5,330.2 281.4,327.9 282.3,325.1 283.1,321.9 284.0,318.4 284.9,314.6 285.7,310.7 286.6,306.5 287.4,302.2 288.3,297.9 289.2,293.5 290.0,289.1 290.9,284.7 291.8,280.3 292.6,275.9 293.5,271.6 294.4,267.4 295.2,263.3 296.1,259.3 297.0,255.4 297.8,251.6 298.7,248.0 299.6,244.5 300.4,241.1 301.3,237.8 302.2,234.8 303.0,231.8 303.9,229.0 304.8,226.3 305.6,223.8 306.5,221.4 307.3,219.2 308.2,217.0 309.1,215.1 309.9,213.2 310.8,211.5 311.7,209.8 312.5,208.3 313.4,206.9" fill="none" stroke="#fff" stroke-opacity="0.08" stroke-width="1.4"/>
</g>
<rect x="100.4" y="371" width="107.4" height="68.5" fill="#000"/>
<rect x="96.5" y="367.4" width="107.5" height="68.1" fill="#fff" stroke="#3a3a3a" stroke-width="1"/>
<use href="#k" x="122.3" y="380.6"/>
<text x="146" y="386.9" font-size="17.5px"><tspan class="g">β</tspan>=0</text>
<use href="#r" x="122.3" y="402.2"/>
<text x="146" y="408.6" font-size="17.5px"><tspan class="g">β</tspan>=10.0</text>
<use href="#b" x="122.3" y="423.9"/>
<text x="146" y="430.2" font-size="17.5px"><tspan class="g">β</tspan>=20.0</text>
<rect x="344.8" y="392.8" width="60" height="49" fill="#000"/>
<rect x="340.8" y="388.8" width="60" height="48.2" fill="#fff" stroke="#8a8a8a" stroke-width="1.2"/>
<text x="345.2" y="408.7" font-size="15.5px" class="g">γ</text><text x="352.5" y="408.7" font-size="17px">=100</text>
<text transform="translate(345.4,430.4) scale(1.12,1)" font-size="16.3px" class="g">λ</text><text x="354.7" y="430.4" font-size="17px">=0.3</text>
</svg></body></html>
